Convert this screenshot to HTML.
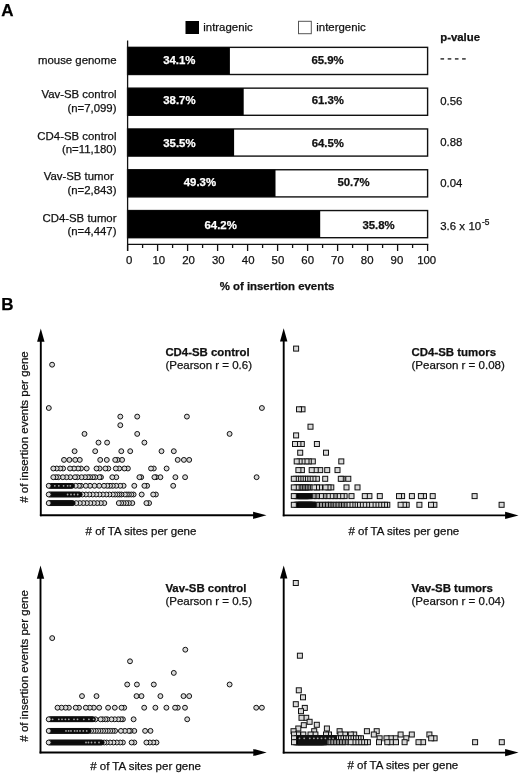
<!DOCTYPE html>
<html><head><meta charset="utf-8"><style>
html,body{margin:0;padding:0;background:#fff;}
svg{display:block;font-family:"Liberation Sans", sans-serif;will-change:transform;filter:blur(0.3px);}
</style></head><body>
<svg width="520" height="773" viewBox="0 0 520 773">
<rect width="520" height="773" fill="#fff"/>
<text x="1.2" y="15.8" font-size="17" font-weight="bold" text-anchor="start" fill="#000" stroke="#000" stroke-width="0.25" >A</text>
<rect x="185.5" y="21" width="13.5" height="13" fill="#000" stroke="none" stroke-width="0"/>
<rect x="298.5" y="21.3" width="12.8" height="12.4" fill="#fff" stroke="#555" stroke-width="1"/>
<text x="203.3" y="30.5" font-size="11.4" text-anchor="start" fill="#111" stroke="#111" stroke-width="0.25" >intragenic</text>
<text x="316.3" y="30.5" font-size="11.4" text-anchor="start" fill="#111" stroke="#111" stroke-width="0.25" >intergenic</text>
<text x="440.2" y="40.6" font-size="11.4" font-weight="bold" text-anchor="start" fill="#111" stroke="#111" stroke-width="0.25" >p-value</text>
<rect x="127.6" y="47.35" width="300.0" height="27.15" fill="#fff" stroke="#111" stroke-width="1.4"/>
<rect x="127.6" y="47.35" width="102.3" height="27.15" fill="#000" stroke="none" stroke-width="0"/>
<text x="179.3" y="63.8" font-size="11.4" font-weight="bold" text-anchor="middle" fill="#fff" stroke="#fff" stroke-width="0.25" >34.1%</text>
<text x="327.6" y="63.8" font-size="11.4" font-weight="bold" text-anchor="middle" fill="#111" stroke="#111" stroke-width="0.25" >65.9%</text>
<text x="116.5" y="63.9" font-size="11.4" text-anchor="end" fill="#111" stroke="#111" stroke-width="0.25" >mouse genome</text>
<line x1="440.5" y1="58.9" x2="444.1" y2="58.9" stroke="#222" stroke-width="1.4"/>
<line x1="447.7" y1="58.9" x2="451.3" y2="58.9" stroke="#222" stroke-width="1.4"/>
<line x1="454.9" y1="58.9" x2="458.5" y2="58.9" stroke="#222" stroke-width="1.4"/>
<line x1="462.1" y1="58.9" x2="465.7" y2="58.9" stroke="#222" stroke-width="1.4"/>
<rect x="127.6" y="88.15" width="300.0" height="27.15" fill="#fff" stroke="#111" stroke-width="1.4"/>
<rect x="127.6" y="88.15" width="116.1" height="27.15" fill="#000" stroke="none" stroke-width="0"/>
<text x="179.4" y="103.7" font-size="11.4" font-weight="bold" text-anchor="middle" fill="#fff" stroke="#fff" stroke-width="0.25" >38.7%</text>
<text x="327.85" y="103.7" font-size="11.4" font-weight="bold" text-anchor="middle" fill="#111" stroke="#111" stroke-width="0.25" >61.3%</text>
<text x="116.5" y="98.2" font-size="11.4" text-anchor="end" fill="#111" stroke="#111" stroke-width="0.25" >Vav-SB control</text>
<text x="116.5" y="112.1" font-size="11.4" text-anchor="end" fill="#111" stroke="#111" stroke-width="0.25" >(n=7,099)</text>
<text x="440.2" y="104.7" font-size="11.4" text-anchor="start" fill="#111" stroke="#111" stroke-width="0.25" >0.56</text>
<rect x="127.6" y="128.95" width="300.0" height="27.15" fill="#fff" stroke="#111" stroke-width="1.4"/>
<rect x="127.6" y="128.95" width="106.5" height="27.15" fill="#000" stroke="none" stroke-width="0"/>
<text x="179.4" y="146.6" font-size="11.4" font-weight="bold" text-anchor="middle" fill="#fff" stroke="#fff" stroke-width="0.25" >35.5%</text>
<text x="327.85" y="146.6" font-size="11.4" font-weight="bold" text-anchor="middle" fill="#111" stroke="#111" stroke-width="0.25" >64.5%</text>
<text x="116.5" y="139.5" font-size="11.4" text-anchor="end" fill="#111" stroke="#111" stroke-width="0.25" >CD4-SB control</text>
<text x="116.5" y="153.1" font-size="11.4" text-anchor="end" fill="#111" stroke="#111" stroke-width="0.25" >(n=11,180)</text>
<text x="440.2" y="145.6" font-size="11.4" text-anchor="start" fill="#111" stroke="#111" stroke-width="0.25" >0.88</text>
<rect x="127.6" y="169.75" width="300.0" height="27.15" fill="#fff" stroke="#111" stroke-width="1.4"/>
<rect x="127.6" y="169.75" width="147.9" height="27.15" fill="#000" stroke="none" stroke-width="0"/>
<text x="199.9" y="186.1" font-size="11.4" font-weight="bold" text-anchor="middle" fill="#fff" stroke="#fff" stroke-width="0.25" >49.3%</text>
<text x="353.6" y="186.1" font-size="11.4" font-weight="bold" text-anchor="middle" fill="#111" stroke="#111" stroke-width="0.25" >50.7%</text>
<text x="113.7" y="180.4" font-size="11.4" text-anchor="end" fill="#111" stroke="#111" stroke-width="0.25" >Vav-SB tumor</text>
<text x="116.5" y="194.4" font-size="11.4" text-anchor="end" fill="#111" stroke="#111" stroke-width="0.25" >(n=2,843)</text>
<text x="440.2" y="186.7" font-size="11.4" text-anchor="start" fill="#111" stroke="#111" stroke-width="0.25" >0.04</text>
<rect x="127.6" y="210.55" width="300.0" height="27.15" fill="#fff" stroke="#111" stroke-width="1.4"/>
<rect x="127.6" y="210.55" width="192.6" height="27.15" fill="#000" stroke="none" stroke-width="0"/>
<text x="220.7" y="228.75" font-size="11.4" font-weight="bold" text-anchor="middle" fill="#fff" stroke="#fff" stroke-width="0.25" >64.2%</text>
<text x="378.6" y="228.75" font-size="11.4" font-weight="bold" text-anchor="middle" fill="#111" stroke="#111" stroke-width="0.25" >35.8%</text>
<text x="116.5" y="221.5" font-size="11.4" text-anchor="end" fill="#111" stroke="#111" stroke-width="0.25" >CD4-SB tumor</text>
<text x="116.5" y="235.2" font-size="11.4" text-anchor="end" fill="#111" stroke="#111" stroke-width="0.25" >(n=4,447)</text>
<text x="440.2" y="229.6" font-size="11.4" text-anchor="start" fill="#111" stroke="#111" stroke-width="0.25" >3.6 x</text>
<text x="468.4" y="229.6" font-size="11.6" text-anchor="start" fill="#111" stroke="#111" stroke-width="0.25" >10</text>
<text x="481.9" y="224.9" font-size="8.4" text-anchor="start" fill="#111" stroke="#111" stroke-width="0.25" >-5</text>
<line x1="127.6" y1="40.5" x2="127.6" y2="251" stroke="#111" stroke-width="1.3"/>
<line x1="127" y1="244.4" x2="428.3" y2="244.4" stroke="#111" stroke-width="1.3"/>
<line x1="127.6" y1="244.4" x2="127.6" y2="251" stroke="#111" stroke-width="1.3"/>
<text x="129.1" y="264" font-size="11.4" text-anchor="middle" fill="#111" stroke="#111" stroke-width="0.25" >0</text>
<line x1="142.6" y1="244.4" x2="142.6" y2="248" stroke="#111" stroke-width="1.3"/>
<line x1="157.6" y1="244.4" x2="157.6" y2="251" stroke="#111" stroke-width="1.3"/>
<text x="158.86" y="264" font-size="11.4" text-anchor="middle" fill="#111" stroke="#111" stroke-width="0.25" >10</text>
<line x1="172.6" y1="244.4" x2="172.6" y2="248" stroke="#111" stroke-width="1.3"/>
<line x1="187.6" y1="244.4" x2="187.6" y2="251" stroke="#111" stroke-width="1.3"/>
<text x="188.62" y="264" font-size="11.4" text-anchor="middle" fill="#111" stroke="#111" stroke-width="0.25" >20</text>
<line x1="202.6" y1="244.4" x2="202.6" y2="248" stroke="#111" stroke-width="1.3"/>
<line x1="217.6" y1="244.4" x2="217.6" y2="251" stroke="#111" stroke-width="1.3"/>
<text x="218.38" y="264" font-size="11.4" text-anchor="middle" fill="#111" stroke="#111" stroke-width="0.25" >30</text>
<line x1="232.6" y1="244.4" x2="232.6" y2="248" stroke="#111" stroke-width="1.3"/>
<line x1="247.6" y1="244.4" x2="247.6" y2="251" stroke="#111" stroke-width="1.3"/>
<text x="248.14" y="264" font-size="11.4" text-anchor="middle" fill="#111" stroke="#111" stroke-width="0.25" >40</text>
<line x1="262.6" y1="244.4" x2="262.6" y2="248" stroke="#111" stroke-width="1.3"/>
<line x1="277.6" y1="244.4" x2="277.6" y2="251" stroke="#111" stroke-width="1.3"/>
<text x="277.9" y="264" font-size="11.4" text-anchor="middle" fill="#111" stroke="#111" stroke-width="0.25" >50</text>
<line x1="292.6" y1="244.4" x2="292.6" y2="248" stroke="#111" stroke-width="1.3"/>
<line x1="307.6" y1="244.4" x2="307.6" y2="251" stroke="#111" stroke-width="1.3"/>
<text x="307.66" y="264" font-size="11.4" text-anchor="middle" fill="#111" stroke="#111" stroke-width="0.25" >60</text>
<line x1="322.6" y1="244.4" x2="322.6" y2="248" stroke="#111" stroke-width="1.3"/>
<line x1="337.6" y1="244.4" x2="337.6" y2="251" stroke="#111" stroke-width="1.3"/>
<text x="337.42" y="264" font-size="11.4" text-anchor="middle" fill="#111" stroke="#111" stroke-width="0.25" >70</text>
<line x1="352.6" y1="244.4" x2="352.6" y2="248" stroke="#111" stroke-width="1.3"/>
<line x1="367.6" y1="244.4" x2="367.6" y2="251" stroke="#111" stroke-width="1.3"/>
<text x="367.18" y="264" font-size="11.4" text-anchor="middle" fill="#111" stroke="#111" stroke-width="0.25" >80</text>
<line x1="382.6" y1="244.4" x2="382.6" y2="248" stroke="#111" stroke-width="1.3"/>
<line x1="397.6" y1="244.4" x2="397.6" y2="251" stroke="#111" stroke-width="1.3"/>
<text x="396.94" y="264" font-size="11.4" text-anchor="middle" fill="#111" stroke="#111" stroke-width="0.25" >90</text>
<line x1="412.6" y1="244.4" x2="412.6" y2="248" stroke="#111" stroke-width="1.3"/>
<line x1="427.6" y1="244.4" x2="427.6" y2="251" stroke="#111" stroke-width="1.3"/>
<text x="426.7" y="264" font-size="11.4" text-anchor="middle" fill="#111" stroke="#111" stroke-width="0.25" >100</text>
<text x="277" y="289.5" font-size="11.4" font-weight="bold" text-anchor="middle" fill="#111" stroke="#111" stroke-width="0.25" >% of insertion events</text>
<text x="1.3" y="309.7" font-size="17" font-weight="bold" text-anchor="start" fill="#000" stroke="#000" stroke-width="0.25" >B</text>
<line x1="40.8" y1="338.5" x2="40.8" y2="516.2" stroke="#000" stroke-width="1.9"/>
<path d="M40.8,328.5 L44.5,341.7 L37.1,341.7 Z" fill="#000"/>
<line x1="39.9" y1="515.3" x2="256.5" y2="515.3" stroke="#000" stroke-width="1.9"/>
<path d="M266.5,515.3 L253.1,511.7 L253.1,518.9 Z" fill="#000"/>
<line x1="283.7" y1="338.3" x2="283.7" y2="516.3" stroke="#000" stroke-width="1.9"/>
<path d="M283.7,328.3 L287.4,341.5 L280.0,341.5 Z" fill="#000"/>
<line x1="282.8" y1="515.4" x2="508.5" y2="515.4" stroke="#000" stroke-width="1.9"/>
<path d="M518.5,515.4 L505.1,511.8 L505.1,519.0 Z" fill="#000"/>
<line x1="40.5" y1="575.6" x2="40.5" y2="753.4" stroke="#000" stroke-width="1.9"/>
<path d="M40.5,565.6 L44.2,578.8 L36.8,578.8 Z" fill="#000"/>
<line x1="39.6" y1="752.5" x2="256.7" y2="752.5" stroke="#000" stroke-width="1.9"/>
<path d="M266.7,752.5 L253.3,748.9 L253.3,756.1 Z" fill="#000"/>
<line x1="283.7" y1="575.4" x2="283.7" y2="753.5" stroke="#000" stroke-width="1.9"/>
<path d="M283.7,565.4 L287.4,578.6 L280.0,578.6 Z" fill="#000"/>
<line x1="282.8" y1="752.6" x2="508.5" y2="752.6" stroke="#000" stroke-width="1.9"/>
<path d="M518.5,752.6 L505.1,749.0 L505.1,756.2 Z" fill="#000"/>
<text x="165.4" y="355.5" font-size="11.4" font-weight="bold" text-anchor="start" fill="#111" stroke="#111" stroke-width="0.25" >CD4-SB control</text>
<text x="165.4" y="368.9" font-size="11.5" text-anchor="start" fill="#111" stroke="#111" stroke-width="0.25" >(Pearson r = 0.6)</text>
<text x="411.5" y="355.8" font-size="11.45" font-weight="bold" text-anchor="start" fill="#111" stroke="#111" stroke-width="0.25" >CD4-SB tumors</text>
<text x="411.5" y="369.3" font-size="11.55" text-anchor="start" fill="#111" stroke="#111" stroke-width="0.25" >(Pearson r = 0.08)</text>
<text x="165.4" y="591.6" font-size="11.4" font-weight="bold" text-anchor="start" fill="#111" stroke="#111" stroke-width="0.25" >Vav-SB control</text>
<text x="165.4" y="604.8" font-size="11.5" text-anchor="start" fill="#111" stroke="#111" stroke-width="0.25" >(Pearson r = 0.5)</text>
<text x="411.5" y="591.6" font-size="11.45" font-weight="bold" text-anchor="start" fill="#111" stroke="#111" stroke-width="0.25" >Vav-SB tumors</text>
<text x="411.5" y="604.8" font-size="11.55" text-anchor="start" fill="#111" stroke="#111" stroke-width="0.25" >(Pearson r = 0.04)</text>
<text x="85.6" y="534.8" font-size="11.5" text-anchor="start" fill="#111" stroke="#111" stroke-width="0.25" ># of TA sites per gene</text>
<text x="348.4" y="535.2" font-size="11.5" text-anchor="start" fill="#111" stroke="#111" stroke-width="0.25" ># of TA sites per gene</text>
<text x="90.2" y="769.5" font-size="11.5" text-anchor="start" fill="#111" stroke="#111" stroke-width="0.25" ># of TA sites per gene</text>
<text x="347.4" y="769.0" font-size="11.5" text-anchor="start" fill="#111" stroke="#111" stroke-width="0.25" ># of TA sites per gene</text>
<text x="0" y="0" font-size="11.5" text-anchor="start" fill="#111" stroke="#111" stroke-width="0.25" transform="translate(27.8,502.8) rotate(-90)"># of insertion events per gene</text>
<text x="0" y="0" font-size="11.5" text-anchor="start" fill="#111" stroke="#111" stroke-width="0.25" transform="translate(27.8,741.7) rotate(-90)"># of insertion events per gene</text>
<circle cx="52.1" cy="364.7" r="2.45" fill="#d9d9d9" stroke="#111" stroke-width="1.0"/>
<circle cx="261.9" cy="408.0" r="2.45" fill="#d9d9d9" stroke="#111" stroke-width="1.0"/>
<circle cx="48.8" cy="408.0" r="2.45" fill="#d9d9d9" stroke="#111" stroke-width="1.0"/>
<circle cx="186.9" cy="416.6" r="2.45" fill="#d9d9d9" stroke="#111" stroke-width="1.0"/>
<circle cx="137.2" cy="416.6" r="2.45" fill="#d9d9d9" stroke="#111" stroke-width="1.0"/>
<circle cx="120.3" cy="416.6" r="2.45" fill="#d9d9d9" stroke="#111" stroke-width="1.0"/>
<circle cx="120.3" cy="425.2" r="2.45" fill="#d9d9d9" stroke="#111" stroke-width="1.0"/>
<circle cx="229.6" cy="433.9" r="2.45" fill="#d9d9d9" stroke="#111" stroke-width="1.0"/>
<circle cx="137.2" cy="433.9" r="2.45" fill="#d9d9d9" stroke="#111" stroke-width="1.0"/>
<circle cx="84.5" cy="433.9" r="2.45" fill="#d9d9d9" stroke="#111" stroke-width="1.0"/>
<circle cx="144.4" cy="442.6" r="2.45" fill="#d9d9d9" stroke="#111" stroke-width="1.0"/>
<circle cx="107.1" cy="442.6" r="2.45" fill="#d9d9d9" stroke="#111" stroke-width="1.0"/>
<circle cx="98.5" cy="442.6" r="2.45" fill="#d9d9d9" stroke="#111" stroke-width="1.0"/>
<circle cx="173.8" cy="451.2" r="2.45" fill="#d9d9d9" stroke="#111" stroke-width="1.0"/>
<circle cx="161.5" cy="451.2" r="2.45" fill="#d9d9d9" stroke="#111" stroke-width="1.0"/>
<circle cx="130.2" cy="451.2" r="2.45" fill="#d9d9d9" stroke="#111" stroke-width="1.0"/>
<circle cx="121.3" cy="451.2" r="2.45" fill="#d9d9d9" stroke="#111" stroke-width="1.0"/>
<circle cx="95.2" cy="451.2" r="2.45" fill="#d9d9d9" stroke="#111" stroke-width="1.0"/>
<circle cx="74.6" cy="451.2" r="2.45" fill="#d9d9d9" stroke="#111" stroke-width="1.0"/>
<circle cx="189.2" cy="459.9" r="2.45" fill="#d9d9d9" stroke="#111" stroke-width="1.0"/>
<circle cx="183.9" cy="459.9" r="2.45" fill="#d9d9d9" stroke="#111" stroke-width="1.0"/>
<circle cx="177.7" cy="459.9" r="2.45" fill="#d9d9d9" stroke="#111" stroke-width="1.0"/>
<circle cx="122.1" cy="459.9" r="2.45" fill="#d9d9d9" stroke="#111" stroke-width="1.0"/>
<circle cx="117.5" cy="459.9" r="2.45" fill="#d9d9d9" stroke="#111" stroke-width="1.0"/>
<circle cx="115.2" cy="459.9" r="2.45" fill="#d9d9d9" stroke="#111" stroke-width="1.0"/>
<circle cx="106.8" cy="459.9" r="2.45" fill="#d9d9d9" stroke="#111" stroke-width="1.0"/>
<circle cx="100.2" cy="459.9" r="2.45" fill="#d9d9d9" stroke="#111" stroke-width="1.0"/>
<circle cx="79.8" cy="459.9" r="2.45" fill="#d9d9d9" stroke="#111" stroke-width="1.0"/>
<circle cx="75.2" cy="459.9" r="2.45" fill="#d9d9d9" stroke="#111" stroke-width="1.0"/>
<circle cx="69.4" cy="459.9" r="2.45" fill="#d9d9d9" stroke="#111" stroke-width="1.0"/>
<circle cx="64" cy="459.9" r="2.45" fill="#d9d9d9" stroke="#111" stroke-width="1.0"/>
<circle cx="166.6" cy="468.5" r="2.45" fill="#d9d9d9" stroke="#111" stroke-width="1.0"/>
<circle cx="153.8" cy="468.5" r="2.45" fill="#d9d9d9" stroke="#111" stroke-width="1.0"/>
<circle cx="151" cy="468.5" r="2.45" fill="#d9d9d9" stroke="#111" stroke-width="1.0"/>
<circle cx="127.9" cy="468.5" r="2.45" fill="#d9d9d9" stroke="#111" stroke-width="1.0"/>
<circle cx="124.4" cy="468.5" r="2.45" fill="#d9d9d9" stroke="#111" stroke-width="1.0"/>
<circle cx="119.2" cy="468.5" r="2.45" fill="#d9d9d9" stroke="#111" stroke-width="1.0"/>
<circle cx="115.8" cy="468.5" r="2.45" fill="#d9d9d9" stroke="#111" stroke-width="1.0"/>
<circle cx="108.3" cy="468.5" r="2.45" fill="#d9d9d9" stroke="#111" stroke-width="1.0"/>
<circle cx="105.4" cy="468.5" r="2.45" fill="#d9d9d9" stroke="#111" stroke-width="1.0"/>
<circle cx="99.6" cy="468.5" r="2.45" fill="#d9d9d9" stroke="#111" stroke-width="1.0"/>
<circle cx="96.5" cy="468.5" r="2.45" fill="#d9d9d9" stroke="#111" stroke-width="1.0"/>
<circle cx="86.7" cy="468.5" r="2.45" fill="#d9d9d9" stroke="#111" stroke-width="1.0"/>
<circle cx="81" cy="468.5" r="2.45" fill="#d9d9d9" stroke="#111" stroke-width="1.0"/>
<circle cx="78.1" cy="468.5" r="2.45" fill="#d9d9d9" stroke="#111" stroke-width="1.0"/>
<circle cx="74" cy="468.5" r="2.45" fill="#d9d9d9" stroke="#111" stroke-width="1.0"/>
<circle cx="70" cy="468.5" r="2.45" fill="#d9d9d9" stroke="#111" stroke-width="1.0"/>
<circle cx="63.1" cy="468.5" r="2.45" fill="#d9d9d9" stroke="#111" stroke-width="1.0"/>
<circle cx="60.2" cy="468.5" r="2.45" fill="#d9d9d9" stroke="#111" stroke-width="1.0"/>
<circle cx="56.7" cy="468.5" r="2.45" fill="#d9d9d9" stroke="#111" stroke-width="1.0"/>
<circle cx="53.3" cy="468.5" r="2.45" fill="#d9d9d9" stroke="#111" stroke-width="1.0"/>
<circle cx="256.6" cy="477.2" r="2.45" fill="#d9d9d9" stroke="#111" stroke-width="1.0"/>
<circle cx="185.1" cy="477.2" r="2.45" fill="#d9d9d9" stroke="#111" stroke-width="1.0"/>
<circle cx="175.4" cy="477.2" r="2.45" fill="#d9d9d9" stroke="#111" stroke-width="1.0"/>
<circle cx="160.4" cy="477.2" r="2.45" fill="#d9d9d9" stroke="#111" stroke-width="1.0"/>
<circle cx="156" cy="477.2" r="2.45" fill="#d9d9d9" stroke="#111" stroke-width="1.0"/>
<circle cx="154.4" cy="477.2" r="2.45" fill="#d9d9d9" stroke="#111" stroke-width="1.0"/>
<circle cx="141.2" cy="477.2" r="2.45" fill="#d9d9d9" stroke="#111" stroke-width="1.0"/>
<circle cx="139.4" cy="477.2" r="2.45" fill="#d9d9d9" stroke="#111" stroke-width="1.0"/>
<circle cx="116.3" cy="477.2" r="2.45" fill="#d9d9d9" stroke="#111" stroke-width="1.0"/>
<circle cx="112.3" cy="477.2" r="2.45" fill="#d9d9d9" stroke="#111" stroke-width="1.0"/>
<circle cx="101" cy="477.2" r="2.45" fill="#d9d9d9" stroke="#111" stroke-width="1.0"/>
<circle cx="99.4" cy="477.2" r="2.45" fill="#d9d9d9" stroke="#111" stroke-width="1.0"/>
<circle cx="95.3" cy="477.2" r="2.45" fill="#d9d9d9" stroke="#111" stroke-width="1.0"/>
<circle cx="93" cy="477.2" r="2.45" fill="#d9d9d9" stroke="#111" stroke-width="1.0"/>
<circle cx="90.1" cy="477.2" r="2.45" fill="#d9d9d9" stroke="#111" stroke-width="1.0"/>
<circle cx="88" cy="477.2" r="2.45" fill="#d9d9d9" stroke="#111" stroke-width="1.0"/>
<circle cx="85" cy="477.2" r="2.45" fill="#d9d9d9" stroke="#111" stroke-width="1.0"/>
<circle cx="81.5" cy="477.2" r="2.45" fill="#d9d9d9" stroke="#111" stroke-width="1.0"/>
<circle cx="77.5" cy="477.2" r="2.45" fill="#d9d9d9" stroke="#111" stroke-width="1.0"/>
<circle cx="75" cy="477.2" r="2.45" fill="#d9d9d9" stroke="#111" stroke-width="1.0"/>
<circle cx="70.2" cy="477.2" r="2.45" fill="#d9d9d9" stroke="#111" stroke-width="1.0"/>
<circle cx="66.5" cy="477.2" r="2.45" fill="#d9d9d9" stroke="#111" stroke-width="1.0"/>
<circle cx="62.8" cy="477.2" r="2.45" fill="#d9d9d9" stroke="#111" stroke-width="1.0"/>
<circle cx="58.4" cy="477.2" r="2.45" fill="#d9d9d9" stroke="#111" stroke-width="1.0"/>
<circle cx="56" cy="477.2" r="2.45" fill="#d9d9d9" stroke="#111" stroke-width="1.0"/>
<circle cx="53.3" cy="477.2" r="2.45" fill="#d9d9d9" stroke="#111" stroke-width="1.0"/>
<circle cx="173.2" cy="485.8" r="2.45" fill="#d9d9d9" stroke="#111" stroke-width="1.0"/>
<circle cx="147.1" cy="485.8" r="2.45" fill="#d9d9d9" stroke="#111" stroke-width="1.0"/>
<circle cx="144.4" cy="485.8" r="2.45" fill="#d9d9d9" stroke="#111" stroke-width="1.0"/>
<circle cx="134.3" cy="485.8" r="2.45" fill="#d9d9d9" stroke="#111" stroke-width="1.0"/>
<circle cx="123.6" cy="485.8" r="2.45" fill="#d9d9d9" stroke="#111" stroke-width="1.0"/>
<circle cx="120.2" cy="485.8" r="2.45" fill="#d9d9d9" stroke="#111" stroke-width="1.0"/>
<circle cx="116.2" cy="485.8" r="2.45" fill="#d9d9d9" stroke="#111" stroke-width="1.0"/>
<circle cx="112.8" cy="485.8" r="2.45" fill="#d9d9d9" stroke="#111" stroke-width="1.0"/>
<circle cx="110" cy="485.8" r="2.45" fill="#d9d9d9" stroke="#111" stroke-width="1.0"/>
<circle cx="107.3" cy="485.8" r="2.45" fill="#d9d9d9" stroke="#111" stroke-width="1.0"/>
<circle cx="104" cy="485.8" r="2.45" fill="#d9d9d9" stroke="#111" stroke-width="1.0"/>
<circle cx="99.2" cy="485.8" r="2.45" fill="#d9d9d9" stroke="#111" stroke-width="1.0"/>
<circle cx="94.5" cy="485.8" r="2.45" fill="#d9d9d9" stroke="#111" stroke-width="1.0"/>
<circle cx="90" cy="485.8" r="2.45" fill="#d9d9d9" stroke="#111" stroke-width="1.0"/>
<circle cx="85.8" cy="485.8" r="2.45" fill="#d9d9d9" stroke="#111" stroke-width="1.0"/>
<circle cx="81" cy="485.8" r="2.45" fill="#d9d9d9" stroke="#111" stroke-width="1.0"/>
<circle cx="79" cy="485.8" r="2.45" fill="#d9d9d9" stroke="#111" stroke-width="1.0"/>
<circle cx="75.7" cy="485.8" r="2.45" fill="#d9d9d9" stroke="#111" stroke-width="1.0"/>
<circle cx="72.0" cy="485.8" r="2.45" fill="#000" stroke="#111" stroke-width="1.0"/>
<circle cx="71.0" cy="485.8" r="2.45" fill="#000" stroke="#111" stroke-width="1.0"/>
<circle cx="70.0" cy="485.8" r="2.45" fill="#000" stroke="#111" stroke-width="1.0"/>
<circle cx="69.0" cy="485.8" r="2.45" fill="#000" stroke="#111" stroke-width="1.0"/>
<circle cx="68.0" cy="485.8" r="2.45" fill="#000" stroke="#111" stroke-width="1.0"/>
<circle cx="67.0" cy="485.8" r="2.45" fill="#000" stroke="#111" stroke-width="1.0"/>
<circle cx="66.0" cy="485.8" r="2.45" fill="#000" stroke="#111" stroke-width="1.0"/>
<circle cx="65.0" cy="485.8" r="2.45" fill="#000" stroke="#111" stroke-width="1.0"/>
<circle cx="64.0" cy="485.8" r="2.45" fill="#000" stroke="#111" stroke-width="1.0"/>
<circle cx="63.0" cy="485.8" r="2.45" fill="#000" stroke="#111" stroke-width="1.0"/>
<circle cx="62.0" cy="485.8" r="2.45" fill="#000" stroke="#111" stroke-width="1.0"/>
<circle cx="61.0" cy="485.8" r="2.45" fill="#000" stroke="#111" stroke-width="1.0"/>
<circle cx="60.0" cy="485.8" r="2.45" fill="#000" stroke="#111" stroke-width="1.0"/>
<circle cx="59.0" cy="485.8" r="2.45" fill="#000" stroke="#111" stroke-width="1.0"/>
<circle cx="58.0" cy="485.8" r="2.45" fill="#000" stroke="#111" stroke-width="1.0"/>
<circle cx="57.0" cy="485.8" r="2.45" fill="#000" stroke="#111" stroke-width="1.0"/>
<circle cx="56.0" cy="485.8" r="2.45" fill="#000" stroke="#111" stroke-width="1.0"/>
<circle cx="55.0" cy="485.8" r="2.45" fill="#000" stroke="#111" stroke-width="1.0"/>
<circle cx="54.0" cy="485.8" r="2.45" fill="#000" stroke="#111" stroke-width="1.0"/>
<circle cx="53.0" cy="485.8" r="2.45" fill="#000" stroke="#111" stroke-width="1.0"/>
<circle cx="52.0" cy="485.8" r="2.45" fill="#000" stroke="#111" stroke-width="1.0"/>
<circle cx="51.0" cy="485.8" r="2.45" fill="#000" stroke="#111" stroke-width="1.0"/>
<circle cx="50.0" cy="485.8" r="2.45" fill="#000" stroke="#111" stroke-width="1.0"/>
<circle cx="48.7" cy="485.8" r="2.45" fill="#d9d9d9" stroke="#111" stroke-width="1.0"/>
<circle cx="155.9" cy="494.5" r="2.45" fill="#d9d9d9" stroke="#111" stroke-width="1.0"/>
<circle cx="153.2" cy="494.5" r="2.45" fill="#d9d9d9" stroke="#111" stroke-width="1.0"/>
<circle cx="141.7" cy="494.5" r="2.45" fill="#d9d9d9" stroke="#111" stroke-width="1.0"/>
<circle cx="133.6" cy="494.5" r="2.45" fill="#d9d9d9" stroke="#111" stroke-width="1.0"/>
<circle cx="131.3" cy="494.5" r="2.45" fill="#d9d9d9" stroke="#111" stroke-width="1.0"/>
<circle cx="128.9" cy="494.5" r="2.45" fill="#d9d9d9" stroke="#111" stroke-width="1.0"/>
<circle cx="126.9" cy="494.5" r="2.45" fill="#d9d9d9" stroke="#111" stroke-width="1.0"/>
<circle cx="124.9" cy="494.5" r="2.45" fill="#d9d9d9" stroke="#111" stroke-width="1.0"/>
<circle cx="121.5" cy="494.5" r="2.45" fill="#d9d9d9" stroke="#111" stroke-width="1.0"/>
<circle cx="119.5" cy="494.5" r="2.45" fill="#d9d9d9" stroke="#111" stroke-width="1.0"/>
<circle cx="117.5" cy="494.5" r="2.45" fill="#d9d9d9" stroke="#111" stroke-width="1.0"/>
<circle cx="115.2" cy="494.5" r="2.45" fill="#d9d9d9" stroke="#111" stroke-width="1.0"/>
<circle cx="112.8" cy="494.5" r="2.45" fill="#d9d9d9" stroke="#111" stroke-width="1.0"/>
<circle cx="109.4" cy="494.5" r="2.45" fill="#d9d9d9" stroke="#111" stroke-width="1.0"/>
<circle cx="106.3" cy="494.5" r="2.45" fill="#d9d9d9" stroke="#111" stroke-width="1.0"/>
<circle cx="102.9" cy="494.5" r="2.45" fill="#d9d9d9" stroke="#111" stroke-width="1.0"/>
<circle cx="99.5" cy="494.5" r="2.45" fill="#d9d9d9" stroke="#111" stroke-width="1.0"/>
<circle cx="96.1" cy="494.5" r="2.45" fill="#d9d9d9" stroke="#111" stroke-width="1.0"/>
<circle cx="92.7" cy="494.5" r="2.45" fill="#d9d9d9" stroke="#111" stroke-width="1.0"/>
<circle cx="89.3" cy="494.5" r="2.45" fill="#d9d9d9" stroke="#111" stroke-width="1.0"/>
<circle cx="85.9" cy="494.5" r="2.45" fill="#d9d9d9" stroke="#111" stroke-width="1.0"/>
<circle cx="82.5" cy="494.5" r="2.45" fill="#d9d9d9" stroke="#111" stroke-width="1.0"/>
<circle cx="79.7" cy="494.5" r="2.45" fill="#000" stroke="#111" stroke-width="1.0"/>
<circle cx="78.7" cy="494.5" r="2.45" fill="#000" stroke="#111" stroke-width="1.0"/>
<circle cx="77.7" cy="494.5" r="2.45" fill="#000" stroke="#111" stroke-width="1.0"/>
<circle cx="76.7" cy="494.5" r="2.45" fill="#000" stroke="#111" stroke-width="1.0"/>
<circle cx="75.7" cy="494.5" r="2.45" fill="#000" stroke="#111" stroke-width="1.0"/>
<circle cx="74.7" cy="494.5" r="2.45" fill="#000" stroke="#111" stroke-width="1.0"/>
<circle cx="73.7" cy="494.5" r="2.45" fill="#000" stroke="#111" stroke-width="1.0"/>
<circle cx="72.7" cy="494.5" r="2.45" fill="#000" stroke="#111" stroke-width="1.0"/>
<circle cx="71.7" cy="494.5" r="2.45" fill="#000" stroke="#111" stroke-width="1.0"/>
<circle cx="70.7" cy="494.5" r="2.45" fill="#000" stroke="#111" stroke-width="1.0"/>
<circle cx="69.7" cy="494.5" r="2.45" fill="#000" stroke="#111" stroke-width="1.0"/>
<circle cx="68.7" cy="494.5" r="2.45" fill="#000" stroke="#111" stroke-width="1.0"/>
<circle cx="67.7" cy="494.5" r="2.45" fill="#000" stroke="#111" stroke-width="1.0"/>
<circle cx="66.7" cy="494.5" r="2.45" fill="#000" stroke="#111" stroke-width="1.0"/>
<circle cx="65.7" cy="494.5" r="2.45" fill="#000" stroke="#111" stroke-width="1.0"/>
<circle cx="64.7" cy="494.5" r="2.45" fill="#000" stroke="#111" stroke-width="1.0"/>
<circle cx="63.7" cy="494.5" r="2.45" fill="#000" stroke="#111" stroke-width="1.0"/>
<circle cx="62.7" cy="494.5" r="2.45" fill="#000" stroke="#111" stroke-width="1.0"/>
<circle cx="61.7" cy="494.5" r="2.45" fill="#000" stroke="#111" stroke-width="1.0"/>
<circle cx="60.7" cy="494.5" r="2.45" fill="#000" stroke="#111" stroke-width="1.0"/>
<circle cx="59.7" cy="494.5" r="2.45" fill="#000" stroke="#111" stroke-width="1.0"/>
<circle cx="58.7" cy="494.5" r="2.45" fill="#000" stroke="#111" stroke-width="1.0"/>
<circle cx="57.7" cy="494.5" r="2.45" fill="#000" stroke="#111" stroke-width="1.0"/>
<circle cx="56.7" cy="494.5" r="2.45" fill="#000" stroke="#111" stroke-width="1.0"/>
<circle cx="55.7" cy="494.5" r="2.45" fill="#000" stroke="#111" stroke-width="1.0"/>
<circle cx="54.7" cy="494.5" r="2.45" fill="#000" stroke="#111" stroke-width="1.0"/>
<circle cx="53.7" cy="494.5" r="2.45" fill="#000" stroke="#111" stroke-width="1.0"/>
<circle cx="52.7" cy="494.5" r="2.45" fill="#000" stroke="#111" stroke-width="1.0"/>
<circle cx="51.7" cy="494.5" r="2.45" fill="#000" stroke="#111" stroke-width="1.0"/>
<circle cx="50.7" cy="494.5" r="2.45" fill="#000" stroke="#111" stroke-width="1.0"/>
<circle cx="49.7" cy="494.5" r="2.45" fill="#000" stroke="#111" stroke-width="1.0"/>
<circle cx="48.7" cy="494.5" r="2.45" fill="#d9d9d9" stroke="#111" stroke-width="1.0"/>
<circle cx="149.1" cy="503.1" r="2.45" fill="#d9d9d9" stroke="#111" stroke-width="1.0"/>
<circle cx="146.4" cy="503.1" r="2.45" fill="#d9d9d9" stroke="#111" stroke-width="1.0"/>
<circle cx="132.3" cy="503.1" r="2.45" fill="#d9d9d9" stroke="#111" stroke-width="1.0"/>
<circle cx="128.9" cy="503.1" r="2.45" fill="#d9d9d9" stroke="#111" stroke-width="1.0"/>
<circle cx="126.3" cy="503.1" r="2.45" fill="#d9d9d9" stroke="#111" stroke-width="1.0"/>
<circle cx="123.6" cy="503.1" r="2.45" fill="#d9d9d9" stroke="#111" stroke-width="1.0"/>
<circle cx="121.2" cy="503.1" r="2.45" fill="#d9d9d9" stroke="#111" stroke-width="1.0"/>
<circle cx="118.8" cy="503.1" r="2.45" fill="#d9d9d9" stroke="#111" stroke-width="1.0"/>
<circle cx="104.3" cy="503.1" r="2.45" fill="#d9d9d9" stroke="#111" stroke-width="1.0"/>
<circle cx="100.8" cy="503.1" r="2.45" fill="#d9d9d9" stroke="#111" stroke-width="1.0"/>
<circle cx="97.3" cy="503.1" r="2.45" fill="#d9d9d9" stroke="#111" stroke-width="1.0"/>
<circle cx="93.8" cy="503.1" r="2.45" fill="#d9d9d9" stroke="#111" stroke-width="1.0"/>
<circle cx="90.3" cy="503.1" r="2.45" fill="#d9d9d9" stroke="#111" stroke-width="1.0"/>
<circle cx="86.8" cy="503.1" r="2.45" fill="#d9d9d9" stroke="#111" stroke-width="1.0"/>
<circle cx="83.3" cy="503.1" r="2.45" fill="#d9d9d9" stroke="#111" stroke-width="1.0"/>
<circle cx="79.8" cy="503.1" r="2.45" fill="#d9d9d9" stroke="#111" stroke-width="1.0"/>
<circle cx="76.3" cy="503.1" r="2.45" fill="#d9d9d9" stroke="#111" stroke-width="1.0"/>
<circle cx="72.7" cy="503.1" r="2.45" fill="#000" stroke="#111" stroke-width="1.0"/>
<circle cx="71.7" cy="503.1" r="2.45" fill="#000" stroke="#111" stroke-width="1.0"/>
<circle cx="70.7" cy="503.1" r="2.45" fill="#000" stroke="#111" stroke-width="1.0"/>
<circle cx="69.7" cy="503.1" r="2.45" fill="#000" stroke="#111" stroke-width="1.0"/>
<circle cx="68.7" cy="503.1" r="2.45" fill="#000" stroke="#111" stroke-width="1.0"/>
<circle cx="67.7" cy="503.1" r="2.45" fill="#000" stroke="#111" stroke-width="1.0"/>
<circle cx="66.7" cy="503.1" r="2.45" fill="#000" stroke="#111" stroke-width="1.0"/>
<circle cx="65.7" cy="503.1" r="2.45" fill="#000" stroke="#111" stroke-width="1.0"/>
<circle cx="64.7" cy="503.1" r="2.45" fill="#000" stroke="#111" stroke-width="1.0"/>
<circle cx="63.7" cy="503.1" r="2.45" fill="#000" stroke="#111" stroke-width="1.0"/>
<circle cx="62.7" cy="503.1" r="2.45" fill="#000" stroke="#111" stroke-width="1.0"/>
<circle cx="61.7" cy="503.1" r="2.45" fill="#000" stroke="#111" stroke-width="1.0"/>
<circle cx="60.7" cy="503.1" r="2.45" fill="#000" stroke="#111" stroke-width="1.0"/>
<circle cx="59.7" cy="503.1" r="2.45" fill="#000" stroke="#111" stroke-width="1.0"/>
<circle cx="58.7" cy="503.1" r="2.45" fill="#000" stroke="#111" stroke-width="1.0"/>
<circle cx="57.7" cy="503.1" r="2.45" fill="#000" stroke="#111" stroke-width="1.0"/>
<circle cx="56.7" cy="503.1" r="2.45" fill="#000" stroke="#111" stroke-width="1.0"/>
<circle cx="55.7" cy="503.1" r="2.45" fill="#000" stroke="#111" stroke-width="1.0"/>
<circle cx="54.7" cy="503.1" r="2.45" fill="#000" stroke="#111" stroke-width="1.0"/>
<circle cx="53.7" cy="503.1" r="2.45" fill="#000" stroke="#111" stroke-width="1.0"/>
<circle cx="52.7" cy="503.1" r="2.45" fill="#000" stroke="#111" stroke-width="1.0"/>
<circle cx="51.7" cy="503.1" r="2.45" fill="#000" stroke="#111" stroke-width="1.0"/>
<circle cx="50.7" cy="503.1" r="2.45" fill="#000" stroke="#111" stroke-width="1.0"/>
<circle cx="49.7" cy="503.1" r="2.45" fill="#000" stroke="#111" stroke-width="1.0"/>
<circle cx="48.7" cy="503.1" r="2.45" fill="#d9d9d9" stroke="#111" stroke-width="1.0"/>
<rect x="293.6" y="346.1" width="5" height="5" fill="#d9d9d9" stroke="#111" stroke-width="1.0"/>
<rect x="300.0" y="406.8" width="5" height="5" fill="#d9d9d9" stroke="#111" stroke-width="1.0"/>
<rect x="296.5" y="406.8" width="5" height="5" fill="#d9d9d9" stroke="#111" stroke-width="1.0"/>
<rect x="308.0" y="424.2" width="5" height="5" fill="#d9d9d9" stroke="#111" stroke-width="1.0"/>
<rect x="293.6" y="432.9" width="5" height="5" fill="#d9d9d9" stroke="#111" stroke-width="1.0"/>
<rect x="314.4" y="441.5" width="5" height="5" fill="#d9d9d9" stroke="#111" stroke-width="1.0"/>
<rect x="299.3" y="441.5" width="5" height="5" fill="#d9d9d9" stroke="#111" stroke-width="1.0"/>
<rect x="295.9" y="441.5" width="5" height="5" fill="#d9d9d9" stroke="#111" stroke-width="1.0"/>
<rect x="292.5" y="441.5" width="5" height="5" fill="#d9d9d9" stroke="#111" stroke-width="1.0"/>
<rect x="323.5" y="450.2" width="5" height="5" fill="#d9d9d9" stroke="#111" stroke-width="1.0"/>
<rect x="297.7" y="450.2" width="5" height="5" fill="#d9d9d9" stroke="#111" stroke-width="1.0"/>
<rect x="338.8" y="458.9" width="5" height="5" fill="#d9d9d9" stroke="#111" stroke-width="1.0"/>
<rect x="310.3" y="458.9" width="5" height="5" fill="#d9d9d9" stroke="#111" stroke-width="1.0"/>
<rect x="306.3" y="458.9" width="5" height="5" fill="#d9d9d9" stroke="#111" stroke-width="1.0"/>
<rect x="304.0" y="458.9" width="5" height="5" fill="#d9d9d9" stroke="#111" stroke-width="1.0"/>
<rect x="300.0" y="458.9" width="5" height="5" fill="#d9d9d9" stroke="#111" stroke-width="1.0"/>
<rect x="297.1" y="458.9" width="5" height="5" fill="#d9d9d9" stroke="#111" stroke-width="1.0"/>
<rect x="294.2" y="458.9" width="5" height="5" fill="#d9d9d9" stroke="#111" stroke-width="1.0"/>
<rect x="335.0" y="467.6" width="5" height="5" fill="#d9d9d9" stroke="#111" stroke-width="1.0"/>
<rect x="324.7" y="467.6" width="5" height="5" fill="#d9d9d9" stroke="#111" stroke-width="1.0"/>
<rect x="317.7" y="467.6" width="5" height="5" fill="#d9d9d9" stroke="#111" stroke-width="1.0"/>
<rect x="313.2" y="467.6" width="5" height="5" fill="#d9d9d9" stroke="#111" stroke-width="1.0"/>
<rect x="309.2" y="467.6" width="5" height="5" fill="#d9d9d9" stroke="#111" stroke-width="1.0"/>
<rect x="299.4" y="467.6" width="5" height="5" fill="#d9d9d9" stroke="#111" stroke-width="1.0"/>
<rect x="295.9" y="467.6" width="5" height="5" fill="#d9d9d9" stroke="#111" stroke-width="1.0"/>
<rect x="345.8" y="476.3" width="5" height="5" fill="#d9d9d9" stroke="#111" stroke-width="1.0"/>
<rect x="340.0" y="476.3" width="5" height="5" fill="#d9d9d9" stroke="#111" stroke-width="1.0"/>
<rect x="338.3" y="476.3" width="5" height="5" fill="#d9d9d9" stroke="#111" stroke-width="1.0"/>
<rect x="322.7" y="476.3" width="5" height="5" fill="#d9d9d9" stroke="#111" stroke-width="1.0"/>
<rect x="314.4" y="476.3" width="5" height="5" fill="#d9d9d9" stroke="#111" stroke-width="1.0"/>
<rect x="310.9" y="476.3" width="5" height="5" fill="#d9d9d9" stroke="#111" stroke-width="1.0"/>
<rect x="308.0" y="476.3" width="5" height="5" fill="#d9d9d9" stroke="#111" stroke-width="1.0"/>
<rect x="305.2" y="476.3" width="5" height="5" fill="#d9d9d9" stroke="#111" stroke-width="1.0"/>
<rect x="302.8" y="476.3" width="5" height="5" fill="#d9d9d9" stroke="#111" stroke-width="1.0"/>
<rect x="300.5" y="476.3" width="5" height="5" fill="#d9d9d9" stroke="#111" stroke-width="1.0"/>
<rect x="298.2" y="476.3" width="5" height="5" fill="#d9d9d9" stroke="#111" stroke-width="1.0"/>
<rect x="295.9" y="476.3" width="5" height="5" fill="#d9d9d9" stroke="#111" stroke-width="1.0"/>
<rect x="293.6" y="476.3" width="5" height="5" fill="#d9d9d9" stroke="#111" stroke-width="1.0"/>
<rect x="291.3" y="476.3" width="5" height="5" fill="#d9d9d9" stroke="#111" stroke-width="1.0"/>
<rect x="355.0" y="484.9" width="5" height="5" fill="#d9d9d9" stroke="#111" stroke-width="1.0"/>
<rect x="344.0" y="484.9" width="5" height="5" fill="#d9d9d9" stroke="#111" stroke-width="1.0"/>
<rect x="328.8" y="484.9" width="5" height="5" fill="#d9d9d9" stroke="#111" stroke-width="1.0"/>
<rect x="326.0" y="484.9" width="5" height="5" fill="#d9d9d9" stroke="#111" stroke-width="1.0"/>
<rect x="323.0" y="484.9" width="5" height="5" fill="#d9d9d9" stroke="#111" stroke-width="1.0"/>
<rect x="317.5" y="484.9" width="5" height="5" fill="#d9d9d9" stroke="#111" stroke-width="1.0"/>
<rect x="314.5" y="484.9" width="5" height="5" fill="#d9d9d9" stroke="#111" stroke-width="1.0"/>
<rect x="311.5" y="484.9" width="5" height="5" fill="#d9d9d9" stroke="#111" stroke-width="1.0"/>
<rect x="307.0" y="484.9" width="5" height="5" fill="#d9d9d9" stroke="#111" stroke-width="1.0"/>
<rect x="305.4" y="484.9" width="5" height="5" fill="#d9d9d9" stroke="#111" stroke-width="1.0"/>
<rect x="303.8" y="484.9" width="5" height="5" fill="#d9d9d9" stroke="#111" stroke-width="1.0"/>
<rect x="302.2" y="484.9" width="5" height="5" fill="#d9d9d9" stroke="#111" stroke-width="1.0"/>
<rect x="300.6" y="484.9" width="5" height="5" fill="#d9d9d9" stroke="#111" stroke-width="1.0"/>
<rect x="299.0" y="484.9" width="5" height="5" fill="#d9d9d9" stroke="#111" stroke-width="1.0"/>
<rect x="297.4" y="484.9" width="5" height="5" fill="#d9d9d9" stroke="#111" stroke-width="1.0"/>
<rect x="295.8" y="484.9" width="5" height="5" fill="#d9d9d9" stroke="#111" stroke-width="1.0"/>
<rect x="294.2" y="484.9" width="5" height="5" fill="#d9d9d9" stroke="#111" stroke-width="1.0"/>
<rect x="291.3" y="484.9" width="5" height="5" fill="#d9d9d9" stroke="#111" stroke-width="1.0"/>
<rect x="472.1" y="493.6" width="5" height="5" fill="#d9d9d9" stroke="#111" stroke-width="1.0"/>
<rect x="430.2" y="493.6" width="5" height="5" fill="#d9d9d9" stroke="#111" stroke-width="1.0"/>
<rect x="421.5" y="493.6" width="5" height="5" fill="#d9d9d9" stroke="#111" stroke-width="1.0"/>
<rect x="418.4" y="493.6" width="5" height="5" fill="#d9d9d9" stroke="#111" stroke-width="1.0"/>
<rect x="409.4" y="493.6" width="5" height="5" fill="#d9d9d9" stroke="#111" stroke-width="1.0"/>
<rect x="399.6" y="493.6" width="5" height="5" fill="#d9d9d9" stroke="#111" stroke-width="1.0"/>
<rect x="396.5" y="493.6" width="5" height="5" fill="#d9d9d9" stroke="#111" stroke-width="1.0"/>
<rect x="377.3" y="493.6" width="5" height="5" fill="#d9d9d9" stroke="#111" stroke-width="1.0"/>
<rect x="366.9" y="493.6" width="5" height="5" fill="#d9d9d9" stroke="#111" stroke-width="1.0"/>
<rect x="362.3" y="493.6" width="5" height="5" fill="#d9d9d9" stroke="#111" stroke-width="1.0"/>
<rect x="349.0" y="493.6" width="5" height="5" fill="#d9d9d9" stroke="#111" stroke-width="1.0"/>
<rect x="342.1" y="493.6" width="5" height="5" fill="#d9d9d9" stroke="#111" stroke-width="1.0"/>
<rect x="339.2" y="493.6" width="5" height="5" fill="#d9d9d9" stroke="#111" stroke-width="1.0"/>
<rect x="335.7" y="493.6" width="5" height="5" fill="#d9d9d9" stroke="#111" stroke-width="1.0"/>
<rect x="332.3" y="493.6" width="5" height="5" fill="#999" stroke="#111" stroke-width="1.0"/>
<rect x="328.8" y="493.6" width="5" height="5" fill="#d9d9d9" stroke="#111" stroke-width="1.0"/>
<rect x="325.3" y="493.6" width="5" height="5" fill="#d9d9d9" stroke="#111" stroke-width="1.0"/>
<rect x="321.9" y="493.6" width="5" height="5" fill="#999" stroke="#111" stroke-width="1.0"/>
<rect x="318.4" y="493.6" width="5" height="5" fill="#d9d9d9" stroke="#111" stroke-width="1.0"/>
<rect x="314.5" y="493.6" width="5" height="5" fill="#999" stroke="#111" stroke-width="1.0"/>
<rect x="311.0" y="493.6" width="5" height="5" fill="#999" stroke="#111" stroke-width="1.0"/>
<rect x="307.2" y="493.6" width="5" height="5" fill="#000" stroke="#111" stroke-width="1.0"/>
<rect x="306.2" y="493.6" width="5" height="5" fill="#000" stroke="#111" stroke-width="1.0"/>
<rect x="305.2" y="493.6" width="5" height="5" fill="#000" stroke="#111" stroke-width="1.0"/>
<rect x="304.2" y="493.6" width="5" height="5" fill="#000" stroke="#111" stroke-width="1.0"/>
<rect x="303.2" y="493.6" width="5" height="5" fill="#000" stroke="#111" stroke-width="1.0"/>
<rect x="302.2" y="493.6" width="5" height="5" fill="#000" stroke="#111" stroke-width="1.0"/>
<rect x="301.2" y="493.6" width="5" height="5" fill="#000" stroke="#111" stroke-width="1.0"/>
<rect x="300.2" y="493.6" width="5" height="5" fill="#000" stroke="#111" stroke-width="1.0"/>
<rect x="299.2" y="493.6" width="5" height="5" fill="#000" stroke="#111" stroke-width="1.0"/>
<rect x="298.2" y="493.6" width="5" height="5" fill="#000" stroke="#111" stroke-width="1.0"/>
<rect x="297.2" y="493.6" width="5" height="5" fill="#000" stroke="#111" stroke-width="1.0"/>
<rect x="296.2" y="493.6" width="5" height="5" fill="#000" stroke="#111" stroke-width="1.0"/>
<rect x="295.2" y="493.6" width="5" height="5" fill="#000" stroke="#111" stroke-width="1.0"/>
<rect x="294.2" y="493.6" width="5" height="5" fill="#000" stroke="#111" stroke-width="1.0"/>
<rect x="291.3" y="493.6" width="5" height="5" fill="#d9d9d9" stroke="#111" stroke-width="1.0"/>
<rect x="499.1" y="502.3" width="5" height="5" fill="#d9d9d9" stroke="#111" stroke-width="1.0"/>
<rect x="431.9" y="502.3" width="5" height="5" fill="#d9d9d9" stroke="#111" stroke-width="1.0"/>
<rect x="428.5" y="502.3" width="5" height="5" fill="#d9d9d9" stroke="#111" stroke-width="1.0"/>
<rect x="416.9" y="502.3" width="5" height="5" fill="#d9d9d9" stroke="#111" stroke-width="1.0"/>
<rect x="404.2" y="502.3" width="5" height="5" fill="#d9d9d9" stroke="#111" stroke-width="1.0"/>
<rect x="401.6" y="502.3" width="5" height="5" fill="#d9d9d9" stroke="#111" stroke-width="1.0"/>
<rect x="398.1" y="502.3" width="5" height="5" fill="#d9d9d9" stroke="#111" stroke-width="1.0"/>
<rect x="384.8" y="502.3" width="5" height="5" fill="#d9d9d9" stroke="#111" stroke-width="1.0"/>
<rect x="382.5" y="502.3" width="5" height="5" fill="#d9d9d9" stroke="#111" stroke-width="1.0"/>
<rect x="379.6" y="502.3" width="5" height="5" fill="#d9d9d9" stroke="#111" stroke-width="1.0"/>
<rect x="376.7" y="502.3" width="5" height="5" fill="#d9d9d9" stroke="#111" stroke-width="1.0"/>
<rect x="373.8" y="502.3" width="5" height="5" fill="#d9d9d9" stroke="#111" stroke-width="1.0"/>
<rect x="371.0" y="502.3" width="5" height="5" fill="#d9d9d9" stroke="#111" stroke-width="1.0"/>
<rect x="368.1" y="502.3" width="5" height="5" fill="#d9d9d9" stroke="#111" stroke-width="1.0"/>
<rect x="364.6" y="502.3" width="5" height="5" fill="#d9d9d9" stroke="#111" stroke-width="1.0"/>
<rect x="361.7" y="502.3" width="5" height="5" fill="#d9d9d9" stroke="#111" stroke-width="1.0"/>
<rect x="358.3" y="502.3" width="5" height="5" fill="#d9d9d9" stroke="#111" stroke-width="1.0"/>
<rect x="355.4" y="502.3" width="5" height="5" fill="#d9d9d9" stroke="#111" stroke-width="1.0"/>
<rect x="352.5" y="502.3" width="5" height="5" fill="#d9d9d9" stroke="#111" stroke-width="1.0"/>
<rect x="350.2" y="502.3" width="5" height="5" fill="#d9d9d9" stroke="#111" stroke-width="1.0"/>
<rect x="347.9" y="502.3" width="5" height="5" fill="#d9d9d9" stroke="#111" stroke-width="1.0"/>
<rect x="345.0" y="502.3" width="5" height="5" fill="#d9d9d9" stroke="#111" stroke-width="1.0"/>
<rect x="342.1" y="502.3" width="5" height="5" fill="#999" stroke="#111" stroke-width="1.0"/>
<rect x="339.2" y="502.3" width="5" height="5" fill="#999" stroke="#111" stroke-width="1.0"/>
<rect x="336.5" y="502.3" width="5" height="5" fill="#999" stroke="#111" stroke-width="1.0"/>
<rect x="334.0" y="502.3" width="5" height="5" fill="#999" stroke="#111" stroke-width="1.0"/>
<rect x="331.0" y="502.3" width="5" height="5" fill="#999" stroke="#111" stroke-width="1.0"/>
<rect x="328.2" y="502.3" width="5" height="5" fill="#999" stroke="#111" stroke-width="1.0"/>
<rect x="326.0" y="502.3" width="5" height="5" fill="#999" stroke="#111" stroke-width="1.0"/>
<rect x="323.5" y="502.3" width="5" height="5" fill="#999" stroke="#111" stroke-width="1.0"/>
<rect x="320.5" y="502.3" width="5" height="5" fill="#999" stroke="#111" stroke-width="1.0"/>
<rect x="317.5" y="502.3" width="5" height="5" fill="#999" stroke="#111" stroke-width="1.0"/>
<rect x="314.5" y="502.3" width="5" height="5" fill="#999" stroke="#111" stroke-width="1.0"/>
<rect x="311.2" y="502.3" width="5" height="5" fill="#000" stroke="#111" stroke-width="1.0"/>
<rect x="310.2" y="502.3" width="5" height="5" fill="#000" stroke="#111" stroke-width="1.0"/>
<rect x="309.2" y="502.3" width="5" height="5" fill="#000" stroke="#111" stroke-width="1.0"/>
<rect x="308.2" y="502.3" width="5" height="5" fill="#000" stroke="#111" stroke-width="1.0"/>
<rect x="307.2" y="502.3" width="5" height="5" fill="#000" stroke="#111" stroke-width="1.0"/>
<rect x="306.2" y="502.3" width="5" height="5" fill="#000" stroke="#111" stroke-width="1.0"/>
<rect x="305.2" y="502.3" width="5" height="5" fill="#000" stroke="#111" stroke-width="1.0"/>
<rect x="304.2" y="502.3" width="5" height="5" fill="#000" stroke="#111" stroke-width="1.0"/>
<rect x="303.2" y="502.3" width="5" height="5" fill="#000" stroke="#111" stroke-width="1.0"/>
<rect x="302.2" y="502.3" width="5" height="5" fill="#000" stroke="#111" stroke-width="1.0"/>
<rect x="301.2" y="502.3" width="5" height="5" fill="#000" stroke="#111" stroke-width="1.0"/>
<rect x="300.2" y="502.3" width="5" height="5" fill="#000" stroke="#111" stroke-width="1.0"/>
<rect x="299.2" y="502.3" width="5" height="5" fill="#000" stroke="#111" stroke-width="1.0"/>
<rect x="298.2" y="502.3" width="5" height="5" fill="#000" stroke="#111" stroke-width="1.0"/>
<rect x="297.2" y="502.3" width="5" height="5" fill="#000" stroke="#111" stroke-width="1.0"/>
<rect x="296.2" y="502.3" width="5" height="5" fill="#000" stroke="#111" stroke-width="1.0"/>
<rect x="295.2" y="502.3" width="5" height="5" fill="#000" stroke="#111" stroke-width="1.0"/>
<rect x="294.2" y="502.3" width="5" height="5" fill="#000" stroke="#111" stroke-width="1.0"/>
<rect x="291.3" y="502.3" width="5" height="5" fill="#d9d9d9" stroke="#111" stroke-width="1.0"/>
<circle cx="52.2" cy="638.1" r="2.45" fill="#d9d9d9" stroke="#111" stroke-width="1.0"/>
<circle cx="185.3" cy="649.7" r="2.45" fill="#d9d9d9" stroke="#111" stroke-width="1.0"/>
<circle cx="130" cy="661.3" r="2.45" fill="#d9d9d9" stroke="#111" stroke-width="1.0"/>
<circle cx="173.8" cy="672.9" r="2.45" fill="#d9d9d9" stroke="#111" stroke-width="1.0"/>
<circle cx="229.6" cy="684.5" r="2.45" fill="#d9d9d9" stroke="#111" stroke-width="1.0"/>
<circle cx="153.8" cy="684.5" r="2.45" fill="#d9d9d9" stroke="#111" stroke-width="1.0"/>
<circle cx="136.9" cy="684.5" r="2.45" fill="#d9d9d9" stroke="#111" stroke-width="1.0"/>
<circle cx="127.2" cy="684.5" r="2.45" fill="#d9d9d9" stroke="#111" stroke-width="1.0"/>
<circle cx="189.2" cy="696.1" r="2.45" fill="#d9d9d9" stroke="#111" stroke-width="1.0"/>
<circle cx="183.5" cy="696.1" r="2.45" fill="#d9d9d9" stroke="#111" stroke-width="1.0"/>
<circle cx="160.4" cy="696.1" r="2.45" fill="#d9d9d9" stroke="#111" stroke-width="1.0"/>
<circle cx="141.5" cy="696.1" r="2.45" fill="#d9d9d9" stroke="#111" stroke-width="1.0"/>
<circle cx="136.5" cy="696.1" r="2.45" fill="#d9d9d9" stroke="#111" stroke-width="1.0"/>
<circle cx="96.5" cy="696.1" r="2.45" fill="#d9d9d9" stroke="#111" stroke-width="1.0"/>
<circle cx="82" cy="696.1" r="2.45" fill="#d9d9d9" stroke="#111" stroke-width="1.0"/>
<circle cx="261.9" cy="707.7" r="2.45" fill="#d9d9d9" stroke="#111" stroke-width="1.0"/>
<circle cx="256.2" cy="707.7" r="2.45" fill="#d9d9d9" stroke="#111" stroke-width="1.0"/>
<circle cx="185" cy="707.7" r="2.45" fill="#d9d9d9" stroke="#111" stroke-width="1.0"/>
<circle cx="177.8" cy="707.7" r="2.45" fill="#d9d9d9" stroke="#111" stroke-width="1.0"/>
<circle cx="175.1" cy="707.7" r="2.45" fill="#d9d9d9" stroke="#111" stroke-width="1.0"/>
<circle cx="166.4" cy="707.7" r="2.45" fill="#d9d9d9" stroke="#111" stroke-width="1.0"/>
<circle cx="155.4" cy="707.7" r="2.45" fill="#d9d9d9" stroke="#111" stroke-width="1.0"/>
<circle cx="144.2" cy="707.7" r="2.45" fill="#d9d9d9" stroke="#111" stroke-width="1.0"/>
<circle cx="124.2" cy="707.7" r="2.45" fill="#d9d9d9" stroke="#111" stroke-width="1.0"/>
<circle cx="121.5" cy="707.7" r="2.45" fill="#d9d9d9" stroke="#111" stroke-width="1.0"/>
<circle cx="114.8" cy="707.7" r="2.45" fill="#d9d9d9" stroke="#111" stroke-width="1.0"/>
<circle cx="108.1" cy="707.7" r="2.45" fill="#d9d9d9" stroke="#111" stroke-width="1.0"/>
<circle cx="99.2" cy="707.7" r="2.45" fill="#d9d9d9" stroke="#111" stroke-width="1.0"/>
<circle cx="93.8" cy="707.7" r="2.45" fill="#d9d9d9" stroke="#111" stroke-width="1.0"/>
<circle cx="89.8" cy="707.7" r="2.45" fill="#d9d9d9" stroke="#111" stroke-width="1.0"/>
<circle cx="85.8" cy="707.7" r="2.45" fill="#d9d9d9" stroke="#111" stroke-width="1.0"/>
<circle cx="79" cy="707.7" r="2.45" fill="#d9d9d9" stroke="#111" stroke-width="1.0"/>
<circle cx="75.7" cy="707.7" r="2.45" fill="#d9d9d9" stroke="#111" stroke-width="1.0"/>
<circle cx="68.9" cy="707.7" r="2.45" fill="#d9d9d9" stroke="#111" stroke-width="1.0"/>
<circle cx="65.6" cy="707.7" r="2.45" fill="#d9d9d9" stroke="#111" stroke-width="1.0"/>
<circle cx="61.5" cy="707.7" r="2.45" fill="#d9d9d9" stroke="#111" stroke-width="1.0"/>
<circle cx="57.5" cy="707.7" r="2.45" fill="#d9d9d9" stroke="#111" stroke-width="1.0"/>
<circle cx="187.2" cy="719.3" r="2.45" fill="#d9d9d9" stroke="#111" stroke-width="1.0"/>
<circle cx="133.6" cy="719.3" r="2.45" fill="#d9d9d9" stroke="#111" stroke-width="1.0"/>
<circle cx="122.9" cy="719.3" r="2.45" fill="#d9d9d9" stroke="#111" stroke-width="1.0"/>
<circle cx="120.9" cy="719.3" r="2.45" fill="#d9d9d9" stroke="#111" stroke-width="1.0"/>
<circle cx="118.2" cy="719.3" r="2.45" fill="#d9d9d9" stroke="#111" stroke-width="1.0"/>
<circle cx="114.8" cy="719.3" r="2.45" fill="#d9d9d9" stroke="#111" stroke-width="1.0"/>
<circle cx="111.4" cy="719.3" r="2.45" fill="#d9d9d9" stroke="#111" stroke-width="1.0"/>
<circle cx="107.3" cy="719.3" r="2.45" fill="#d9d9d9" stroke="#111" stroke-width="1.0"/>
<circle cx="105.4" cy="719.3" r="2.45" fill="#d9d9d9" stroke="#111" stroke-width="1.0"/>
<circle cx="102.7" cy="719.3" r="2.45" fill="#d9d9d9" stroke="#111" stroke-width="1.0"/>
<circle cx="100.6" cy="719.3" r="2.45" fill="#d9d9d9" stroke="#111" stroke-width="1.0"/>
<circle cx="95.5" cy="719.3" r="2.45" fill="#d9d9d9" stroke="#111" stroke-width="1.0"/>
<circle cx="93.0" cy="719.3" r="2.45" fill="#000" stroke="#111" stroke-width="1.0"/>
<circle cx="92.0" cy="719.3" r="2.45" fill="#000" stroke="#111" stroke-width="1.0"/>
<circle cx="91.0" cy="719.3" r="2.45" fill="#000" stroke="#111" stroke-width="1.0"/>
<circle cx="90.0" cy="719.3" r="2.45" fill="#000" stroke="#111" stroke-width="1.0"/>
<circle cx="89.0" cy="719.3" r="2.45" fill="#000" stroke="#111" stroke-width="1.0"/>
<circle cx="88.0" cy="719.3" r="2.45" fill="#000" stroke="#111" stroke-width="1.0"/>
<circle cx="87.0" cy="719.3" r="2.45" fill="#000" stroke="#111" stroke-width="1.0"/>
<circle cx="86.0" cy="719.3" r="2.45" fill="#000" stroke="#111" stroke-width="1.0"/>
<circle cx="85.0" cy="719.3" r="2.45" fill="#000" stroke="#111" stroke-width="1.0"/>
<circle cx="84.0" cy="719.3" r="2.45" fill="#000" stroke="#111" stroke-width="1.0"/>
<circle cx="83.0" cy="719.3" r="2.45" fill="#000" stroke="#111" stroke-width="1.0"/>
<circle cx="82.0" cy="719.3" r="2.45" fill="#000" stroke="#111" stroke-width="1.0"/>
<circle cx="81.0" cy="719.3" r="2.45" fill="#000" stroke="#111" stroke-width="1.0"/>
<circle cx="80.0" cy="719.3" r="2.45" fill="#000" stroke="#111" stroke-width="1.0"/>
<circle cx="79.0" cy="719.3" r="2.45" fill="#000" stroke="#111" stroke-width="1.0"/>
<circle cx="78.0" cy="719.3" r="2.45" fill="#000" stroke="#111" stroke-width="1.0"/>
<circle cx="77.0" cy="719.3" r="2.45" fill="#000" stroke="#111" stroke-width="1.0"/>
<circle cx="76.0" cy="719.3" r="2.45" fill="#000" stroke="#111" stroke-width="1.0"/>
<circle cx="75.0" cy="719.3" r="2.45" fill="#000" stroke="#111" stroke-width="1.0"/>
<circle cx="74.0" cy="719.3" r="2.45" fill="#000" stroke="#111" stroke-width="1.0"/>
<circle cx="73.0" cy="719.3" r="2.45" fill="#000" stroke="#111" stroke-width="1.0"/>
<circle cx="72.0" cy="719.3" r="2.45" fill="#000" stroke="#111" stroke-width="1.0"/>
<circle cx="71.0" cy="719.3" r="2.45" fill="#000" stroke="#111" stroke-width="1.0"/>
<circle cx="70.0" cy="719.3" r="2.45" fill="#000" stroke="#111" stroke-width="1.0"/>
<circle cx="69.0" cy="719.3" r="2.45" fill="#000" stroke="#111" stroke-width="1.0"/>
<circle cx="68.0" cy="719.3" r="2.45" fill="#000" stroke="#111" stroke-width="1.0"/>
<circle cx="67.0" cy="719.3" r="2.45" fill="#000" stroke="#111" stroke-width="1.0"/>
<circle cx="66.0" cy="719.3" r="2.45" fill="#000" stroke="#111" stroke-width="1.0"/>
<circle cx="65.0" cy="719.3" r="2.45" fill="#000" stroke="#111" stroke-width="1.0"/>
<circle cx="64.0" cy="719.3" r="2.45" fill="#000" stroke="#111" stroke-width="1.0"/>
<circle cx="63.0" cy="719.3" r="2.45" fill="#000" stroke="#111" stroke-width="1.0"/>
<circle cx="62.0" cy="719.3" r="2.45" fill="#000" stroke="#111" stroke-width="1.0"/>
<circle cx="61.0" cy="719.3" r="2.45" fill="#000" stroke="#111" stroke-width="1.0"/>
<circle cx="60.0" cy="719.3" r="2.45" fill="#000" stroke="#111" stroke-width="1.0"/>
<circle cx="59.0" cy="719.3" r="2.45" fill="#000" stroke="#111" stroke-width="1.0"/>
<circle cx="58.0" cy="719.3" r="2.45" fill="#000" stroke="#111" stroke-width="1.0"/>
<circle cx="57.0" cy="719.3" r="2.45" fill="#000" stroke="#111" stroke-width="1.0"/>
<circle cx="56.0" cy="719.3" r="2.45" fill="#000" stroke="#111" stroke-width="1.0"/>
<circle cx="55.0" cy="719.3" r="2.45" fill="#000" stroke="#111" stroke-width="1.0"/>
<circle cx="54.0" cy="719.3" r="2.45" fill="#000" stroke="#111" stroke-width="1.0"/>
<circle cx="53.0" cy="719.3" r="2.45" fill="#000" stroke="#111" stroke-width="1.0"/>
<circle cx="52.0" cy="719.3" r="2.45" fill="#000" stroke="#111" stroke-width="1.0"/>
<circle cx="51.0" cy="719.3" r="2.45" fill="#000" stroke="#111" stroke-width="1.0"/>
<circle cx="50.0" cy="719.3" r="2.45" fill="#000" stroke="#111" stroke-width="1.0"/>
<circle cx="48.7" cy="719.3" r="2.45" fill="#d9d9d9" stroke="#111" stroke-width="1.0"/>
<circle cx="150.5" cy="730.9" r="2.45" fill="#d9d9d9" stroke="#111" stroke-width="1.0"/>
<circle cx="145.1" cy="730.9" r="2.45" fill="#d9d9d9" stroke="#111" stroke-width="1.0"/>
<circle cx="134.3" cy="730.9" r="2.45" fill="#d9d9d9" stroke="#111" stroke-width="1.0"/>
<circle cx="130.5" cy="730.9" r="2.45" fill="#d9d9d9" stroke="#111" stroke-width="1.0"/>
<circle cx="128.9" cy="730.9" r="2.45" fill="#d9d9d9" stroke="#111" stroke-width="1.0"/>
<circle cx="124.9" cy="730.9" r="2.45" fill="#d9d9d9" stroke="#111" stroke-width="1.0"/>
<circle cx="120.9" cy="730.9" r="2.45" fill="#d9d9d9" stroke="#111" stroke-width="1.0"/>
<circle cx="115.1" cy="730.9" r="2.45" fill="#d9d9d9" stroke="#111" stroke-width="1.0"/>
<circle cx="112.7" cy="730.9" r="2.45" fill="#d9d9d9" stroke="#111" stroke-width="1.0"/>
<circle cx="110.3" cy="730.9" r="2.45" fill="#d9d9d9" stroke="#111" stroke-width="1.0"/>
<circle cx="107.9" cy="730.9" r="2.45" fill="#d9d9d9" stroke="#111" stroke-width="1.0"/>
<circle cx="105.5" cy="730.9" r="2.45" fill="#d9d9d9" stroke="#111" stroke-width="1.0"/>
<circle cx="103.1" cy="730.9" r="2.45" fill="#d9d9d9" stroke="#111" stroke-width="1.0"/>
<circle cx="100.7" cy="730.9" r="2.45" fill="#d9d9d9" stroke="#111" stroke-width="1.0"/>
<circle cx="98.3" cy="730.9" r="2.45" fill="#d9d9d9" stroke="#111" stroke-width="1.0"/>
<circle cx="95.9" cy="730.9" r="2.45" fill="#d9d9d9" stroke="#111" stroke-width="1.0"/>
<circle cx="93.5" cy="730.9" r="2.45" fill="#d9d9d9" stroke="#111" stroke-width="1.0"/>
<circle cx="91.1" cy="730.9" r="2.45" fill="#d9d9d9" stroke="#111" stroke-width="1.0"/>
<circle cx="88.7" cy="730.9" r="2.45" fill="#000" stroke="#111" stroke-width="1.0"/>
<circle cx="87.7" cy="730.9" r="2.45" fill="#000" stroke="#111" stroke-width="1.0"/>
<circle cx="86.7" cy="730.9" r="2.45" fill="#000" stroke="#111" stroke-width="1.0"/>
<circle cx="85.7" cy="730.9" r="2.45" fill="#000" stroke="#111" stroke-width="1.0"/>
<circle cx="84.7" cy="730.9" r="2.45" fill="#000" stroke="#111" stroke-width="1.0"/>
<circle cx="83.7" cy="730.9" r="2.45" fill="#000" stroke="#111" stroke-width="1.0"/>
<circle cx="82.7" cy="730.9" r="2.45" fill="#000" stroke="#111" stroke-width="1.0"/>
<circle cx="81.7" cy="730.9" r="2.45" fill="#000" stroke="#111" stroke-width="1.0"/>
<circle cx="80.7" cy="730.9" r="2.45" fill="#000" stroke="#111" stroke-width="1.0"/>
<circle cx="79.7" cy="730.9" r="2.45" fill="#000" stroke="#111" stroke-width="1.0"/>
<circle cx="78.7" cy="730.9" r="2.45" fill="#000" stroke="#111" stroke-width="1.0"/>
<circle cx="77.7" cy="730.9" r="2.45" fill="#000" stroke="#111" stroke-width="1.0"/>
<circle cx="76.7" cy="730.9" r="2.45" fill="#000" stroke="#111" stroke-width="1.0"/>
<circle cx="75.7" cy="730.9" r="2.45" fill="#000" stroke="#111" stroke-width="1.0"/>
<circle cx="74.7" cy="730.9" r="2.45" fill="#000" stroke="#111" stroke-width="1.0"/>
<circle cx="73.7" cy="730.9" r="2.45" fill="#000" stroke="#111" stroke-width="1.0"/>
<circle cx="72.7" cy="730.9" r="2.45" fill="#000" stroke="#111" stroke-width="1.0"/>
<circle cx="71.7" cy="730.9" r="2.45" fill="#000" stroke="#111" stroke-width="1.0"/>
<circle cx="70.7" cy="730.9" r="2.45" fill="#000" stroke="#111" stroke-width="1.0"/>
<circle cx="69.7" cy="730.9" r="2.45" fill="#000" stroke="#111" stroke-width="1.0"/>
<circle cx="68.7" cy="730.9" r="2.45" fill="#000" stroke="#111" stroke-width="1.0"/>
<circle cx="67.7" cy="730.9" r="2.45" fill="#000" stroke="#111" stroke-width="1.0"/>
<circle cx="66.7" cy="730.9" r="2.45" fill="#000" stroke="#111" stroke-width="1.0"/>
<circle cx="65.7" cy="730.9" r="2.45" fill="#000" stroke="#111" stroke-width="1.0"/>
<circle cx="64.7" cy="730.9" r="2.45" fill="#000" stroke="#111" stroke-width="1.0"/>
<circle cx="63.7" cy="730.9" r="2.45" fill="#000" stroke="#111" stroke-width="1.0"/>
<circle cx="62.7" cy="730.9" r="2.45" fill="#000" stroke="#111" stroke-width="1.0"/>
<circle cx="61.7" cy="730.9" r="2.45" fill="#000" stroke="#111" stroke-width="1.0"/>
<circle cx="60.7" cy="730.9" r="2.45" fill="#000" stroke="#111" stroke-width="1.0"/>
<circle cx="59.7" cy="730.9" r="2.45" fill="#000" stroke="#111" stroke-width="1.0"/>
<circle cx="58.7" cy="730.9" r="2.45" fill="#000" stroke="#111" stroke-width="1.0"/>
<circle cx="57.7" cy="730.9" r="2.45" fill="#000" stroke="#111" stroke-width="1.0"/>
<circle cx="56.7" cy="730.9" r="2.45" fill="#000" stroke="#111" stroke-width="1.0"/>
<circle cx="55.7" cy="730.9" r="2.45" fill="#000" stroke="#111" stroke-width="1.0"/>
<circle cx="54.7" cy="730.9" r="2.45" fill="#000" stroke="#111" stroke-width="1.0"/>
<circle cx="53.7" cy="730.9" r="2.45" fill="#000" stroke="#111" stroke-width="1.0"/>
<circle cx="52.7" cy="730.9" r="2.45" fill="#000" stroke="#111" stroke-width="1.0"/>
<circle cx="51.7" cy="730.9" r="2.45" fill="#000" stroke="#111" stroke-width="1.0"/>
<circle cx="50.7" cy="730.9" r="2.45" fill="#000" stroke="#111" stroke-width="1.0"/>
<circle cx="49.7" cy="730.9" r="2.45" fill="#000" stroke="#111" stroke-width="1.0"/>
<circle cx="48.7" cy="730.9" r="2.45" fill="#d9d9d9" stroke="#111" stroke-width="1.0"/>
<circle cx="156.5" cy="742.5" r="2.45" fill="#d9d9d9" stroke="#111" stroke-width="1.0"/>
<circle cx="153.2" cy="742.5" r="2.45" fill="#d9d9d9" stroke="#111" stroke-width="1.0"/>
<circle cx="149.8" cy="742.5" r="2.45" fill="#d9d9d9" stroke="#111" stroke-width="1.0"/>
<circle cx="146.4" cy="742.5" r="2.45" fill="#d9d9d9" stroke="#111" stroke-width="1.0"/>
<circle cx="134.3" cy="742.5" r="2.45" fill="#d9d9d9" stroke="#111" stroke-width="1.0"/>
<circle cx="131.6" cy="742.5" r="2.45" fill="#d9d9d9" stroke="#111" stroke-width="1.0"/>
<circle cx="122.9" cy="742.5" r="2.45" fill="#d9d9d9" stroke="#111" stroke-width="1.0"/>
<circle cx="120.2" cy="742.5" r="2.45" fill="#d9d9d9" stroke="#111" stroke-width="1.0"/>
<circle cx="116.8" cy="742.5" r="2.45" fill="#d9d9d9" stroke="#111" stroke-width="1.0"/>
<circle cx="113.5" cy="742.5" r="2.45" fill="#d9d9d9" stroke="#111" stroke-width="1.0"/>
<circle cx="110.1" cy="742.5" r="2.45" fill="#d9d9d9" stroke="#111" stroke-width="1.0"/>
<circle cx="106.7" cy="742.5" r="2.45" fill="#d9d9d9" stroke="#111" stroke-width="1.0"/>
<circle cx="104.2" cy="742.5" r="2.45" fill="#d9d9d9" stroke="#111" stroke-width="1.0"/>
<circle cx="101.7" cy="742.5" r="2.45" fill="#000" stroke="#111" stroke-width="1.0"/>
<circle cx="100.7" cy="742.5" r="2.45" fill="#000" stroke="#111" stroke-width="1.0"/>
<circle cx="99.7" cy="742.5" r="2.45" fill="#000" stroke="#111" stroke-width="1.0"/>
<circle cx="98.7" cy="742.5" r="2.45" fill="#000" stroke="#111" stroke-width="1.0"/>
<circle cx="97.7" cy="742.5" r="2.45" fill="#000" stroke="#111" stroke-width="1.0"/>
<circle cx="96.7" cy="742.5" r="2.45" fill="#000" stroke="#111" stroke-width="1.0"/>
<circle cx="95.7" cy="742.5" r="2.45" fill="#000" stroke="#111" stroke-width="1.0"/>
<circle cx="94.7" cy="742.5" r="2.45" fill="#000" stroke="#111" stroke-width="1.0"/>
<circle cx="93.7" cy="742.5" r="2.45" fill="#000" stroke="#111" stroke-width="1.0"/>
<circle cx="92.7" cy="742.5" r="2.45" fill="#000" stroke="#111" stroke-width="1.0"/>
<circle cx="91.7" cy="742.5" r="2.45" fill="#000" stroke="#111" stroke-width="1.0"/>
<circle cx="90.7" cy="742.5" r="2.45" fill="#000" stroke="#111" stroke-width="1.0"/>
<circle cx="89.7" cy="742.5" r="2.45" fill="#000" stroke="#111" stroke-width="1.0"/>
<circle cx="88.7" cy="742.5" r="2.45" fill="#000" stroke="#111" stroke-width="1.0"/>
<circle cx="87.7" cy="742.5" r="2.45" fill="#000" stroke="#111" stroke-width="1.0"/>
<circle cx="86.7" cy="742.5" r="2.45" fill="#000" stroke="#111" stroke-width="1.0"/>
<circle cx="85.7" cy="742.5" r="2.45" fill="#000" stroke="#111" stroke-width="1.0"/>
<circle cx="84.7" cy="742.5" r="2.45" fill="#000" stroke="#111" stroke-width="1.0"/>
<circle cx="83.7" cy="742.5" r="2.45" fill="#000" stroke="#111" stroke-width="1.0"/>
<circle cx="82.7" cy="742.5" r="2.45" fill="#000" stroke="#111" stroke-width="1.0"/>
<circle cx="81.7" cy="742.5" r="2.45" fill="#000" stroke="#111" stroke-width="1.0"/>
<circle cx="80.7" cy="742.5" r="2.45" fill="#000" stroke="#111" stroke-width="1.0"/>
<circle cx="79.7" cy="742.5" r="2.45" fill="#000" stroke="#111" stroke-width="1.0"/>
<circle cx="78.7" cy="742.5" r="2.45" fill="#000" stroke="#111" stroke-width="1.0"/>
<circle cx="77.7" cy="742.5" r="2.45" fill="#000" stroke="#111" stroke-width="1.0"/>
<circle cx="76.7" cy="742.5" r="2.45" fill="#000" stroke="#111" stroke-width="1.0"/>
<circle cx="75.7" cy="742.5" r="2.45" fill="#000" stroke="#111" stroke-width="1.0"/>
<circle cx="74.7" cy="742.5" r="2.45" fill="#000" stroke="#111" stroke-width="1.0"/>
<circle cx="73.7" cy="742.5" r="2.45" fill="#000" stroke="#111" stroke-width="1.0"/>
<circle cx="72.7" cy="742.5" r="2.45" fill="#000" stroke="#111" stroke-width="1.0"/>
<circle cx="71.7" cy="742.5" r="2.45" fill="#000" stroke="#111" stroke-width="1.0"/>
<circle cx="70.7" cy="742.5" r="2.45" fill="#000" stroke="#111" stroke-width="1.0"/>
<circle cx="69.7" cy="742.5" r="2.45" fill="#000" stroke="#111" stroke-width="1.0"/>
<circle cx="68.7" cy="742.5" r="2.45" fill="#000" stroke="#111" stroke-width="1.0"/>
<circle cx="67.7" cy="742.5" r="2.45" fill="#000" stroke="#111" stroke-width="1.0"/>
<circle cx="66.7" cy="742.5" r="2.45" fill="#000" stroke="#111" stroke-width="1.0"/>
<circle cx="65.7" cy="742.5" r="2.45" fill="#000" stroke="#111" stroke-width="1.0"/>
<circle cx="64.7" cy="742.5" r="2.45" fill="#000" stroke="#111" stroke-width="1.0"/>
<circle cx="63.7" cy="742.5" r="2.45" fill="#000" stroke="#111" stroke-width="1.0"/>
<circle cx="62.7" cy="742.5" r="2.45" fill="#000" stroke="#111" stroke-width="1.0"/>
<circle cx="61.7" cy="742.5" r="2.45" fill="#000" stroke="#111" stroke-width="1.0"/>
<circle cx="60.7" cy="742.5" r="2.45" fill="#000" stroke="#111" stroke-width="1.0"/>
<circle cx="59.7" cy="742.5" r="2.45" fill="#000" stroke="#111" stroke-width="1.0"/>
<circle cx="58.7" cy="742.5" r="2.45" fill="#000" stroke="#111" stroke-width="1.0"/>
<circle cx="57.7" cy="742.5" r="2.45" fill="#000" stroke="#111" stroke-width="1.0"/>
<circle cx="56.7" cy="742.5" r="2.45" fill="#000" stroke="#111" stroke-width="1.0"/>
<circle cx="55.7" cy="742.5" r="2.45" fill="#000" stroke="#111" stroke-width="1.0"/>
<circle cx="54.7" cy="742.5" r="2.45" fill="#000" stroke="#111" stroke-width="1.0"/>
<circle cx="53.7" cy="742.5" r="2.45" fill="#000" stroke="#111" stroke-width="1.0"/>
<circle cx="52.7" cy="742.5" r="2.45" fill="#000" stroke="#111" stroke-width="1.0"/>
<circle cx="51.7" cy="742.5" r="2.45" fill="#000" stroke="#111" stroke-width="1.0"/>
<circle cx="50.7" cy="742.5" r="2.45" fill="#000" stroke="#111" stroke-width="1.0"/>
<circle cx="49.7" cy="742.5" r="2.45" fill="#000" stroke="#111" stroke-width="1.0"/>
<circle cx="48.7" cy="742.5" r="2.45" fill="#d9d9d9" stroke="#111" stroke-width="1.0"/>
<rect x="293.3" y="580.5" width="5" height="5" fill="#d9d9d9" stroke="#111" stroke-width="1.0"/>
<rect x="297.4" y="653.2" width="5" height="5" fill="#d9d9d9" stroke="#111" stroke-width="1.0"/>
<rect x="296.3" y="687.8" width="5" height="5" fill="#d9d9d9" stroke="#111" stroke-width="1.0"/>
<rect x="300.5" y="694.8" width="5" height="5" fill="#d9d9d9" stroke="#111" stroke-width="1.0"/>
<rect x="293.3" y="701.7" width="5" height="5" fill="#d9d9d9" stroke="#111" stroke-width="1.0"/>
<rect x="302.3" y="705.4" width="5" height="5" fill="#d9d9d9" stroke="#111" stroke-width="1.0"/>
<rect x="298.5" y="708.7" width="5" height="5" fill="#d9d9d9" stroke="#111" stroke-width="1.0"/>
<rect x="303.7" y="715.3" width="5" height="5" fill="#d9d9d9" stroke="#111" stroke-width="1.0"/>
<rect x="299.0" y="715.3" width="5" height="5" fill="#d9d9d9" stroke="#111" stroke-width="1.0"/>
<rect x="307.1" y="719.3" width="5" height="5" fill="#d9d9d9" stroke="#111" stroke-width="1.0"/>
<rect x="314.3" y="722.3" width="5" height="5" fill="#d9d9d9" stroke="#111" stroke-width="1.0"/>
<rect x="301.3" y="722.7" width="5" height="5" fill="#d9d9d9" stroke="#111" stroke-width="1.0"/>
<rect x="324.4" y="726.0" width="5" height="5" fill="#d9d9d9" stroke="#111" stroke-width="1.0"/>
<rect x="295.8" y="726.0" width="5" height="5" fill="#d9d9d9" stroke="#111" stroke-width="1.0"/>
<rect x="374.2" y="728.7" width="5" height="5" fill="#d9d9d9" stroke="#111" stroke-width="1.0"/>
<rect x="364.4" y="728.7" width="5" height="5" fill="#d9d9d9" stroke="#111" stroke-width="1.0"/>
<rect x="337.1" y="728.7" width="5" height="5" fill="#d9d9d9" stroke="#111" stroke-width="1.0"/>
<rect x="311.7" y="728.7" width="5" height="5" fill="#d9d9d9" stroke="#111" stroke-width="1.0"/>
<rect x="291.0" y="728.7" width="5" height="5" fill="#d9d9d9" stroke="#111" stroke-width="1.0"/>
<rect x="426.9" y="732.0" width="5" height="5" fill="#d9d9d9" stroke="#111" stroke-width="1.0"/>
<rect x="409.3" y="732.0" width="5" height="5" fill="#d9d9d9" stroke="#111" stroke-width="1.0"/>
<rect x="398.1" y="732.0" width="5" height="5" fill="#d9d9d9" stroke="#111" stroke-width="1.0"/>
<rect x="371.3" y="732.0" width="5" height="5" fill="#d9d9d9" stroke="#111" stroke-width="1.0"/>
<rect x="351.7" y="732.0" width="5" height="5" fill="#d9d9d9" stroke="#111" stroke-width="1.0"/>
<rect x="348.3" y="732.0" width="5" height="5" fill="#d9d9d9" stroke="#111" stroke-width="1.0"/>
<rect x="342.5" y="732.0" width="5" height="5" fill="#d9d9d9" stroke="#111" stroke-width="1.0"/>
<rect x="337.9" y="732.0" width="5" height="5" fill="#d9d9d9" stroke="#111" stroke-width="1.0"/>
<rect x="326.5" y="732.0" width="5" height="5" fill="#d9d9d9" stroke="#111" stroke-width="1.0"/>
<rect x="323.5" y="732.0" width="5" height="5" fill="#d9d9d9" stroke="#111" stroke-width="1.0"/>
<rect x="312.9" y="732.0" width="5" height="5" fill="#d9d9d9" stroke="#111" stroke-width="1.0"/>
<rect x="308.0" y="732.0" width="5" height="5" fill="#d9d9d9" stroke="#111" stroke-width="1.0"/>
<rect x="300.8" y="732.0" width="5" height="5" fill="#d9d9d9" stroke="#111" stroke-width="1.0"/>
<rect x="295.5" y="732.0" width="5" height="5" fill="#d9d9d9" stroke="#111" stroke-width="1.0"/>
<rect x="291.5" y="732.0" width="5" height="5" fill="#d9d9d9" stroke="#111" stroke-width="1.0"/>
<rect x="432.1" y="735.8" width="5" height="5" fill="#d9d9d9" stroke="#111" stroke-width="1.0"/>
<rect x="428.7" y="735.8" width="5" height="5" fill="#d9d9d9" stroke="#111" stroke-width="1.0"/>
<rect x="403.8" y="735.8" width="5" height="5" fill="#d9d9d9" stroke="#111" stroke-width="1.0"/>
<rect x="392.9" y="735.8" width="5" height="5" fill="#d9d9d9" stroke="#111" stroke-width="1.0"/>
<rect x="388.3" y="735.8" width="5" height="5" fill="#d9d9d9" stroke="#111" stroke-width="1.0"/>
<rect x="384.0" y="735.8" width="5" height="5" fill="#d9d9d9" stroke="#111" stroke-width="1.0"/>
<rect x="377.1" y="735.8" width="5" height="5" fill="#d9d9d9" stroke="#111" stroke-width="1.0"/>
<rect x="358.5" y="735.8" width="5" height="5" fill="#d9d9d9" stroke="#111" stroke-width="1.0"/>
<rect x="356.0" y="735.8" width="5" height="5" fill="#d9d9d9" stroke="#111" stroke-width="1.0"/>
<rect x="353.5" y="735.8" width="5" height="5" fill="#d9d9d9" stroke="#111" stroke-width="1.0"/>
<rect x="351.0" y="735.8" width="5" height="5" fill="#d9d9d9" stroke="#111" stroke-width="1.0"/>
<rect x="348.5" y="735.8" width="5" height="5" fill="#d9d9d9" stroke="#111" stroke-width="1.0"/>
<rect x="346.0" y="735.8" width="5" height="5" fill="#d9d9d9" stroke="#111" stroke-width="1.0"/>
<rect x="343.5" y="735.8" width="5" height="5" fill="#d9d9d9" stroke="#111" stroke-width="1.0"/>
<rect x="341.0" y="735.8" width="5" height="5" fill="#d9d9d9" stroke="#111" stroke-width="1.0"/>
<rect x="338.5" y="735.8" width="5" height="5" fill="#d9d9d9" stroke="#111" stroke-width="1.0"/>
<rect x="336.0" y="735.8" width="5" height="5" fill="#d9d9d9" stroke="#111" stroke-width="1.0"/>
<rect x="333.5" y="735.8" width="5" height="5" fill="#d9d9d9" stroke="#111" stroke-width="1.0"/>
<rect x="331.5" y="735.8" width="5" height="5" fill="#000" stroke="#111" stroke-width="1.0"/>
<rect x="330.5" y="735.8" width="5" height="5" fill="#000" stroke="#111" stroke-width="1.0"/>
<rect x="329.5" y="735.8" width="5" height="5" fill="#000" stroke="#111" stroke-width="1.0"/>
<rect x="328.5" y="735.8" width="5" height="5" fill="#000" stroke="#111" stroke-width="1.0"/>
<rect x="327.5" y="735.8" width="5" height="5" fill="#000" stroke="#111" stroke-width="1.0"/>
<rect x="326.5" y="735.8" width="5" height="5" fill="#000" stroke="#111" stroke-width="1.0"/>
<rect x="325.5" y="735.8" width="5" height="5" fill="#000" stroke="#111" stroke-width="1.0"/>
<rect x="324.5" y="735.8" width="5" height="5" fill="#000" stroke="#111" stroke-width="1.0"/>
<rect x="323.5" y="735.8" width="5" height="5" fill="#000" stroke="#111" stroke-width="1.0"/>
<rect x="322.5" y="735.8" width="5" height="5" fill="#000" stroke="#111" stroke-width="1.0"/>
<rect x="321.5" y="735.8" width="5" height="5" fill="#000" stroke="#111" stroke-width="1.0"/>
<rect x="320.5" y="735.8" width="5" height="5" fill="#000" stroke="#111" stroke-width="1.0"/>
<rect x="319.5" y="735.8" width="5" height="5" fill="#000" stroke="#111" stroke-width="1.0"/>
<rect x="318.5" y="735.8" width="5" height="5" fill="#000" stroke="#111" stroke-width="1.0"/>
<rect x="317.5" y="735.8" width="5" height="5" fill="#000" stroke="#111" stroke-width="1.0"/>
<rect x="316.5" y="735.8" width="5" height="5" fill="#000" stroke="#111" stroke-width="1.0"/>
<rect x="315.5" y="735.8" width="5" height="5" fill="#000" stroke="#111" stroke-width="1.0"/>
<rect x="314.5" y="735.8" width="5" height="5" fill="#000" stroke="#111" stroke-width="1.0"/>
<rect x="313.5" y="735.8" width="5" height="5" fill="#000" stroke="#111" stroke-width="1.0"/>
<rect x="312.5" y="735.8" width="5" height="5" fill="#000" stroke="#111" stroke-width="1.0"/>
<rect x="311.5" y="735.8" width="5" height="5" fill="#000" stroke="#111" stroke-width="1.0"/>
<rect x="310.5" y="735.8" width="5" height="5" fill="#000" stroke="#111" stroke-width="1.0"/>
<rect x="309.5" y="735.8" width="5" height="5" fill="#000" stroke="#111" stroke-width="1.0"/>
<rect x="308.5" y="735.8" width="5" height="5" fill="#000" stroke="#111" stroke-width="1.0"/>
<rect x="307.5" y="735.8" width="5" height="5" fill="#000" stroke="#111" stroke-width="1.0"/>
<rect x="306.5" y="735.8" width="5" height="5" fill="#000" stroke="#111" stroke-width="1.0"/>
<rect x="305.5" y="735.8" width="5" height="5" fill="#000" stroke="#111" stroke-width="1.0"/>
<rect x="304.5" y="735.8" width="5" height="5" fill="#000" stroke="#111" stroke-width="1.0"/>
<rect x="303.5" y="735.8" width="5" height="5" fill="#000" stroke="#111" stroke-width="1.0"/>
<rect x="302.5" y="735.8" width="5" height="5" fill="#000" stroke="#111" stroke-width="1.0"/>
<rect x="301.5" y="735.8" width="5" height="5" fill="#000" stroke="#111" stroke-width="1.0"/>
<rect x="300.5" y="735.8" width="5" height="5" fill="#000" stroke="#111" stroke-width="1.0"/>
<rect x="299.5" y="735.8" width="5" height="5" fill="#000" stroke="#111" stroke-width="1.0"/>
<rect x="298.5" y="735.8" width="5" height="5" fill="#000" stroke="#111" stroke-width="1.0"/>
<rect x="297.5" y="735.8" width="5" height="5" fill="#000" stroke="#111" stroke-width="1.0"/>
<rect x="296.5" y="735.8" width="5" height="5" fill="#000" stroke="#111" stroke-width="1.0"/>
<rect x="295.5" y="735.8" width="5" height="5" fill="#000" stroke="#111" stroke-width="1.0"/>
<rect x="294.5" y="735.8" width="5" height="5" fill="#000" stroke="#111" stroke-width="1.0"/>
<rect x="291.5" y="735.8" width="5" height="5" fill="#d9d9d9" stroke="#111" stroke-width="1.0"/>
<rect x="499.3" y="739.7" width="5" height="5" fill="#d9d9d9" stroke="#111" stroke-width="1.0"/>
<rect x="472.6" y="739.7" width="5" height="5" fill="#d9d9d9" stroke="#111" stroke-width="1.0"/>
<rect x="420.6" y="739.7" width="5" height="5" fill="#d9d9d9" stroke="#111" stroke-width="1.0"/>
<rect x="416.0" y="739.7" width="5" height="5" fill="#d9d9d9" stroke="#111" stroke-width="1.0"/>
<rect x="402.1" y="739.7" width="5" height="5" fill="#d9d9d9" stroke="#111" stroke-width="1.0"/>
<rect x="393.5" y="739.7" width="5" height="5" fill="#d9d9d9" stroke="#111" stroke-width="1.0"/>
<rect x="388.3" y="739.7" width="5" height="5" fill="#d9d9d9" stroke="#111" stroke-width="1.0"/>
<rect x="384.8" y="739.7" width="5" height="5" fill="#d9d9d9" stroke="#111" stroke-width="1.0"/>
<rect x="376.5" y="739.7" width="5" height="5" fill="#d9d9d9" stroke="#111" stroke-width="1.0"/>
<rect x="365.4" y="739.7" width="5" height="5" fill="#d9d9d9" stroke="#111" stroke-width="1.0"/>
<rect x="362.5" y="739.7" width="5" height="5" fill="#d9d9d9" stroke="#111" stroke-width="1.0"/>
<rect x="359.6" y="739.7" width="5" height="5" fill="#d9d9d9" stroke="#111" stroke-width="1.0"/>
<rect x="356.7" y="739.7" width="5" height="5" fill="#d9d9d9" stroke="#111" stroke-width="1.0"/>
<rect x="353.8" y="739.7" width="5" height="5" fill="#d9d9d9" stroke="#111" stroke-width="1.0"/>
<rect x="350.9" y="739.7" width="5" height="5" fill="#d9d9d9" stroke="#111" stroke-width="1.0"/>
<rect x="348.0" y="739.7" width="5" height="5" fill="#d9d9d9" stroke="#111" stroke-width="1.0"/>
<rect x="343.2" y="739.7" width="5" height="5" fill="#999" stroke="#111" stroke-width="1.0"/>
<rect x="340.3" y="739.7" width="5" height="5" fill="#999" stroke="#111" stroke-width="1.0"/>
<rect x="337.4" y="739.7" width="5" height="5" fill="#999" stroke="#111" stroke-width="1.0"/>
<rect x="334.5" y="739.7" width="5" height="5" fill="#999" stroke="#111" stroke-width="1.0"/>
<rect x="331.6" y="739.7" width="5" height="5" fill="#999" stroke="#111" stroke-width="1.0"/>
<rect x="328.7" y="739.7" width="5" height="5" fill="#999" stroke="#111" stroke-width="1.0"/>
<rect x="325.8" y="739.7" width="5" height="5" fill="#999" stroke="#111" stroke-width="1.0"/>
<rect x="322.9" y="739.7" width="5" height="5" fill="#999" stroke="#111" stroke-width="1.0"/>
<rect x="321.5" y="739.7" width="5" height="5" fill="#000" stroke="#111" stroke-width="1.0"/>
<rect x="320.5" y="739.7" width="5" height="5" fill="#000" stroke="#111" stroke-width="1.0"/>
<rect x="319.5" y="739.7" width="5" height="5" fill="#000" stroke="#111" stroke-width="1.0"/>
<rect x="318.5" y="739.7" width="5" height="5" fill="#000" stroke="#111" stroke-width="1.0"/>
<rect x="317.5" y="739.7" width="5" height="5" fill="#000" stroke="#111" stroke-width="1.0"/>
<rect x="316.5" y="739.7" width="5" height="5" fill="#000" stroke="#111" stroke-width="1.0"/>
<rect x="315.5" y="739.7" width="5" height="5" fill="#000" stroke="#111" stroke-width="1.0"/>
<rect x="314.5" y="739.7" width="5" height="5" fill="#000" stroke="#111" stroke-width="1.0"/>
<rect x="313.5" y="739.7" width="5" height="5" fill="#000" stroke="#111" stroke-width="1.0"/>
<rect x="312.5" y="739.7" width="5" height="5" fill="#000" stroke="#111" stroke-width="1.0"/>
<rect x="311.5" y="739.7" width="5" height="5" fill="#000" stroke="#111" stroke-width="1.0"/>
<rect x="310.5" y="739.7" width="5" height="5" fill="#000" stroke="#111" stroke-width="1.0"/>
<rect x="309.5" y="739.7" width="5" height="5" fill="#000" stroke="#111" stroke-width="1.0"/>
<rect x="308.5" y="739.7" width="5" height="5" fill="#000" stroke="#111" stroke-width="1.0"/>
<rect x="307.5" y="739.7" width="5" height="5" fill="#000" stroke="#111" stroke-width="1.0"/>
<rect x="306.5" y="739.7" width="5" height="5" fill="#000" stroke="#111" stroke-width="1.0"/>
<rect x="305.5" y="739.7" width="5" height="5" fill="#000" stroke="#111" stroke-width="1.0"/>
<rect x="304.5" y="739.7" width="5" height="5" fill="#000" stroke="#111" stroke-width="1.0"/>
<rect x="303.5" y="739.7" width="5" height="5" fill="#000" stroke="#111" stroke-width="1.0"/>
<rect x="302.5" y="739.7" width="5" height="5" fill="#000" stroke="#111" stroke-width="1.0"/>
<rect x="301.5" y="739.7" width="5" height="5" fill="#000" stroke="#111" stroke-width="1.0"/>
<rect x="300.5" y="739.7" width="5" height="5" fill="#000" stroke="#111" stroke-width="1.0"/>
<rect x="299.5" y="739.7" width="5" height="5" fill="#000" stroke="#111" stroke-width="1.0"/>
<rect x="298.5" y="739.7" width="5" height="5" fill="#000" stroke="#111" stroke-width="1.0"/>
<rect x="297.5" y="739.7" width="5" height="5" fill="#000" stroke="#111" stroke-width="1.0"/>
<rect x="296.5" y="739.7" width="5" height="5" fill="#000" stroke="#111" stroke-width="1.0"/>
<rect x="295.5" y="739.7" width="5" height="5" fill="#000" stroke="#111" stroke-width="1.0"/>
<rect x="294.5" y="739.7" width="5" height="5" fill="#000" stroke="#111" stroke-width="1.0"/>
<rect x="293.5" y="739.7" width="5" height="5" fill="#000" stroke="#111" stroke-width="1.0"/>
<rect x="291.5" y="739.7" width="5" height="5" fill="#d9d9d9" stroke="#111" stroke-width="1.0"/>
<circle cx="70.3" cy="485.8" r="0.9" fill="#aaa"/>
<circle cx="67.6" cy="485.8" r="0.9" fill="#aaa"/>
<circle cx="63.6" cy="485.8" r="0.9" fill="#aaa"/>
<circle cx="58.8" cy="485.8" r="0.9" fill="#aaa"/>
<circle cx="54.8" cy="485.8" r="0.9" fill="#aaa"/>
<circle cx="77.7" cy="494.5" r="0.9" fill="#aaa"/>
<circle cx="74.3" cy="494.5" r="0.9" fill="#aaa"/>
<circle cx="71.0" cy="494.5" r="0.9" fill="#aaa"/>
<circle cx="67.6" cy="494.5" r="0.9" fill="#aaa"/>
<circle cx="93.6" cy="719.3" r="0.9" fill="#aaa"/>
<circle cx="88.9" cy="719.3" r="0.9" fill="#aaa"/>
<circle cx="83.8" cy="719.3" r="0.9" fill="#aaa"/>
<circle cx="77.5" cy="719.3" r="0.9" fill="#aaa"/>
<circle cx="74.0" cy="719.3" r="0.9" fill="#aaa"/>
<circle cx="68.8" cy="719.3" r="0.9" fill="#aaa"/>
<circle cx="65.4" cy="719.3" r="0.9" fill="#aaa"/>
<circle cx="62.0" cy="719.3" r="0.9" fill="#aaa"/>
<circle cx="58.8" cy="719.3" r="0.9" fill="#aaa"/>
<circle cx="52.6" cy="719.3" r="0.9" fill="#aaa"/>
<circle cx="86.7" cy="730.9" r="0.9" fill="#aaa"/>
<circle cx="83.3" cy="730.9" r="0.9" fill="#aaa"/>
<circle cx="80.0" cy="730.9" r="0.9" fill="#aaa"/>
<circle cx="77.2" cy="730.9" r="0.9" fill="#aaa"/>
<circle cx="74.6" cy="730.9" r="0.9" fill="#aaa"/>
<circle cx="71.0" cy="730.9" r="0.9" fill="#aaa"/>
<circle cx="68.6" cy="730.9" r="0.9" fill="#aaa"/>
<circle cx="66.0" cy="730.9" r="0.9" fill="#aaa"/>
<circle cx="99.0" cy="742.5" r="0.9" fill="#aaa"/>
<circle cx="95.0" cy="742.5" r="0.9" fill="#aaa"/>
<circle cx="91.5" cy="742.5" r="0.9" fill="#aaa"/>
<circle cx="88.5" cy="742.5" r="0.9" fill="#aaa"/>
<circle cx="86.0" cy="742.5" r="0.9" fill="#aaa"/>
<circle cx="333.0" cy="738.3" r="0.9" fill="#aaa"/>
<circle cx="329.7" cy="738.3" r="0.9" fill="#aaa"/>
<circle cx="325.4" cy="738.3" r="0.9" fill="#aaa"/>
<circle cx="321.5" cy="738.3" r="0.9" fill="#aaa"/>
<circle cx="317.7" cy="738.3" r="0.9" fill="#aaa"/>
<circle cx="313.9" cy="738.3" r="0.9" fill="#aaa"/>
<circle cx="309.8" cy="738.3" r="0.9" fill="#aaa"/>
<circle cx="304.2" cy="738.3" r="0.9" fill="#aaa"/>
<circle cx="299.5" cy="738.3" r="0.9" fill="#aaa"/>
</svg></body></html>
